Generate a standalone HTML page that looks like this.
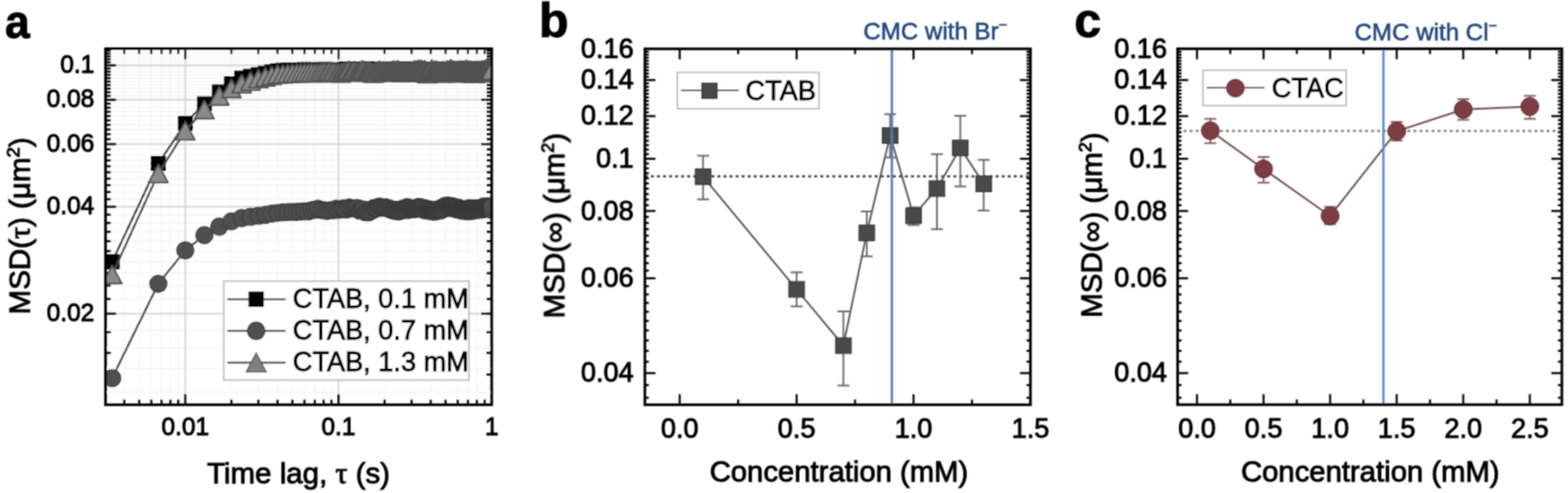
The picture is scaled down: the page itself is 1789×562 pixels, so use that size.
<!DOCTYPE html>
<html><head><meta charset="utf-8"><title>MSD figure</title>
<style>html,body{margin:0;padding:0;background:#fff;}body{width:1789px;height:562px;overflow:hidden;}svg{display:block;}</style>
</head><body>
<svg width="1789" height="562" viewBox="0 0 1789 562">
<defs><filter id="soft" x="0" y="0" width="1789" height="562" filterUnits="userSpaceOnUse"><feConvolveMatrix order="3" kernelMatrix="1 2 1 2 4 2 1 2 1" divisor="16" edgeMode="duplicate" preserveAlpha="false"/></filter></defs>
<rect width="1789" height="562" fill="#fff"/>
<g filter="url(#soft)">
<g>
<line x1="141.84" y1="55.5" x2="141.84" y2="461.4" stroke="#f5f5f5" stroke-width="1.2" />
<line x1="158.78" y1="55.5" x2="158.78" y2="461.4" stroke="#f5f5f5" stroke-width="1.2" />
<line x1="172.62" y1="55.5" x2="172.62" y2="461.4" stroke="#f5f5f5" stroke-width="1.2" />
<line x1="184.32" y1="55.5" x2="184.32" y2="461.4" stroke="#f5f5f5" stroke-width="1.2" />
<line x1="194.46" y1="55.5" x2="194.46" y2="461.4" stroke="#f5f5f5" stroke-width="1.2" />
<line x1="203.4" y1="55.5" x2="203.4" y2="461.4" stroke="#f5f5f5" stroke-width="1.2" />
<line x1="264.02" y1="55.5" x2="264.02" y2="461.4" stroke="#f5f5f5" stroke-width="1.2" />
<line x1="294.8" y1="55.5" x2="294.8" y2="461.4" stroke="#f5f5f5" stroke-width="1.2" />
<line x1="316.64" y1="55.5" x2="316.64" y2="461.4" stroke="#f5f5f5" stroke-width="1.2" />
<line x1="333.58" y1="55.5" x2="333.58" y2="461.4" stroke="#f5f5f5" stroke-width="1.2" />
<line x1="347.42" y1="55.5" x2="347.42" y2="461.4" stroke="#f5f5f5" stroke-width="1.2" />
<line x1="359.12" y1="55.5" x2="359.12" y2="461.4" stroke="#f5f5f5" stroke-width="1.2" />
<line x1="369.26" y1="55.5" x2="369.26" y2="461.4" stroke="#f5f5f5" stroke-width="1.2" />
<line x1="378.2" y1="55.5" x2="378.2" y2="461.4" stroke="#f5f5f5" stroke-width="1.2" />
<line x1="438.82" y1="55.5" x2="438.82" y2="461.4" stroke="#f5f5f5" stroke-width="1.2" />
<line x1="469.6" y1="55.5" x2="469.6" y2="461.4" stroke="#f5f5f5" stroke-width="1.2" />
<line x1="491.44" y1="55.5" x2="491.44" y2="461.4" stroke="#f5f5f5" stroke-width="1.2" />
<line x1="508.38" y1="55.5" x2="508.38" y2="461.4" stroke="#f5f5f5" stroke-width="1.2" />
<line x1="522.22" y1="55.5" x2="522.22" y2="461.4" stroke="#f5f5f5" stroke-width="1.2" />
<line x1="533.92" y1="55.5" x2="533.92" y2="461.4" stroke="#f5f5f5" stroke-width="1.2" />
<line x1="544.06" y1="55.5" x2="544.06" y2="461.4" stroke="#f5f5f5" stroke-width="1.2" />
<line x1="553" y1="55.5" x2="553" y2="461.4" stroke="#f5f5f5" stroke-width="1.2" />
<line x1="120.4" y1="447.43" x2="561" y2="447.43" stroke="#f3f3f3" stroke-width="1.2" />
<line x1="120.4" y1="420.32" x2="561" y2="420.32" stroke="#f3f3f3" stroke-width="1.2" />
<line x1="120.4" y1="396.83" x2="561" y2="396.83" stroke="#f3f3f3" stroke-width="1.2" />
<line x1="120.4" y1="376.11" x2="561" y2="376.11" stroke="#f3f3f3" stroke-width="1.2" />
<line x1="120.4" y1="340.82" x2="561" y2="340.82" stroke="#f3f3f3" stroke-width="1.2" />
<line x1="120.4" y1="325.51" x2="561" y2="325.51" stroke="#f3f3f3" stroke-width="1.2" />
<line x1="120.4" y1="311.44" x2="561" y2="311.44" stroke="#f3f3f3" stroke-width="1.2" />
<line x1="120.4" y1="298.4" x2="561" y2="298.4" stroke="#f3f3f3" stroke-width="1.2" />
<line x1="120.4" y1="286.27" x2="561" y2="286.27" stroke="#f3f3f3" stroke-width="1.2" />
<line x1="120.4" y1="274.91" x2="561" y2="274.91" stroke="#f3f3f3" stroke-width="1.2" />
<line x1="120.4" y1="264.25" x2="561" y2="264.25" stroke="#f3f3f3" stroke-width="1.2" />
<line x1="120.4" y1="254.2" x2="561" y2="254.2" stroke="#f3f3f3" stroke-width="1.2" />
<line x1="120.4" y1="244.69" x2="561" y2="244.69" stroke="#f3f3f3" stroke-width="1.2" />
<line x1="120.4" y1="227.08" x2="561" y2="227.08" stroke="#f3f3f3" stroke-width="1.2" />
<line x1="120.4" y1="218.9" x2="561" y2="218.9" stroke="#f3f3f3" stroke-width="1.2" />
<line x1="120.4" y1="211.08" x2="561" y2="211.08" stroke="#f3f3f3" stroke-width="1.2" />
<line x1="120.4" y1="203.6" x2="561" y2="203.6" stroke="#f3f3f3" stroke-width="1.2" />
<line x1="120.4" y1="196.42" x2="561" y2="196.42" stroke="#f3f3f3" stroke-width="1.2" />
<line x1="120.4" y1="189.52" x2="561" y2="189.52" stroke="#f3f3f3" stroke-width="1.2" />
<line x1="120.4" y1="182.88" x2="561" y2="182.88" stroke="#f3f3f3" stroke-width="1.2" />
<line x1="120.4" y1="176.48" x2="561" y2="176.48" stroke="#f3f3f3" stroke-width="1.2" />
<line x1="120.4" y1="170.31" x2="561" y2="170.31" stroke="#f3f3f3" stroke-width="1.2" />
<line x1="120.4" y1="158.58" x2="561" y2="158.58" stroke="#f3f3f3" stroke-width="1.2" />
<line x1="120.4" y1="153" x2="561" y2="153" stroke="#f3f3f3" stroke-width="1.2" />
<line x1="120.4" y1="147.58" x2="561" y2="147.58" stroke="#f3f3f3" stroke-width="1.2" />
<line x1="120.4" y1="142.33" x2="561" y2="142.33" stroke="#f3f3f3" stroke-width="1.2" />
<line x1="120.4" y1="137.24" x2="561" y2="137.24" stroke="#f3f3f3" stroke-width="1.2" />
<line x1="120.4" y1="132.28" x2="561" y2="132.28" stroke="#f3f3f3" stroke-width="1.2" />
<line x1="120.4" y1="127.46" x2="561" y2="127.46" stroke="#f3f3f3" stroke-width="1.2" />
<line x1="120.4" y1="122.77" x2="561" y2="122.77" stroke="#f3f3f3" stroke-width="1.2" />
<line x1="120.4" y1="118.2" x2="561" y2="118.2" stroke="#f3f3f3" stroke-width="1.2" />
<line x1="120.4" y1="109.41" x2="561" y2="109.41" stroke="#f3f3f3" stroke-width="1.2" />
<line x1="120.4" y1="105.17" x2="561" y2="105.17" stroke="#f3f3f3" stroke-width="1.2" />
<line x1="120.4" y1="101.03" x2="561" y2="101.03" stroke="#f3f3f3" stroke-width="1.2" />
<line x1="120.4" y1="96.98" x2="561" y2="96.98" stroke="#f3f3f3" stroke-width="1.2" />
<line x1="120.4" y1="93.03" x2="561" y2="93.03" stroke="#f3f3f3" stroke-width="1.2" />
<line x1="120.4" y1="89.17" x2="561" y2="89.17" stroke="#f3f3f3" stroke-width="1.2" />
<line x1="120.4" y1="85.38" x2="561" y2="85.38" stroke="#f3f3f3" stroke-width="1.2" />
<line x1="120.4" y1="81.68" x2="561" y2="81.68" stroke="#f3f3f3" stroke-width="1.2" />
<line x1="120.4" y1="78.05" x2="561" y2="78.05" stroke="#f3f3f3" stroke-width="1.2" />
<line x1="120.4" y1="71.02" x2="561" y2="71.02" stroke="#f3f3f3" stroke-width="1.2" />
<line x1="120.4" y1="67.6" x2="561" y2="67.6" stroke="#f3f3f3" stroke-width="1.2" />
<line x1="120.4" y1="64.25" x2="561" y2="64.25" stroke="#f3f3f3" stroke-width="1.2" />
<line x1="120.4" y1="60.96" x2="561" y2="60.96" stroke="#f3f3f3" stroke-width="1.2" />
<line x1="120.4" y1="57.74" x2="561" y2="57.74" stroke="#f3f3f3" stroke-width="1.2" />
<line x1="211.4" y1="55.5" x2="211.4" y2="461.4" stroke="#d4d4d4" stroke-width="1.8" />
<line x1="386.2" y1="55.5" x2="386.2" y2="461.4" stroke="#d4d4d4" stroke-width="1.8" />
<line x1="120.4" y1="357.58" x2="561" y2="357.58" stroke="#d4d4d4" stroke-width="1.8" />
<line x1="120.4" y1="235.67" x2="561" y2="235.67" stroke="#d4d4d4" stroke-width="1.8" />
<line x1="120.4" y1="164.35" x2="561" y2="164.35" stroke="#d4d4d4" stroke-width="1.8" />
<line x1="120.4" y1="113.75" x2="561" y2="113.75" stroke="#d4d4d4" stroke-width="1.8" />
<line x1="120.4" y1="74.5" x2="561" y2="74.5" stroke="#d4d4d4" stroke-width="1.8" />
</g>
<line x1="211.4" y1="461.4" x2="211.4" y2="449.4" stroke="#000" stroke-width="2.3" />
<line x1="211.4" y1="55.5" x2="211.4" y2="67.5" stroke="#000" stroke-width="2.3" />
<line x1="386.2" y1="461.4" x2="386.2" y2="449.4" stroke="#000" stroke-width="2.3" />
<line x1="386.2" y1="55.5" x2="386.2" y2="67.5" stroke="#000" stroke-width="2.3" />
<line x1="141.84" y1="461.4" x2="141.84" y2="455.4" stroke="#000" stroke-width="2.3" />
<line x1="141.84" y1="55.5" x2="141.84" y2="61.5" stroke="#000" stroke-width="2.3" />
<line x1="158.78" y1="461.4" x2="158.78" y2="455.4" stroke="#000" stroke-width="2.3" />
<line x1="158.78" y1="55.5" x2="158.78" y2="61.5" stroke="#000" stroke-width="2.3" />
<line x1="172.62" y1="461.4" x2="172.62" y2="455.4" stroke="#000" stroke-width="2.3" />
<line x1="172.62" y1="55.5" x2="172.62" y2="61.5" stroke="#000" stroke-width="2.3" />
<line x1="184.32" y1="461.4" x2="184.32" y2="455.4" stroke="#000" stroke-width="2.3" />
<line x1="184.32" y1="55.5" x2="184.32" y2="61.5" stroke="#000" stroke-width="2.3" />
<line x1="194.46" y1="461.4" x2="194.46" y2="455.4" stroke="#000" stroke-width="2.3" />
<line x1="194.46" y1="55.5" x2="194.46" y2="61.5" stroke="#000" stroke-width="2.3" />
<line x1="203.4" y1="461.4" x2="203.4" y2="455.4" stroke="#000" stroke-width="2.3" />
<line x1="203.4" y1="55.5" x2="203.4" y2="61.5" stroke="#000" stroke-width="2.3" />
<line x1="264.02" y1="461.4" x2="264.02" y2="455.4" stroke="#000" stroke-width="2.3" />
<line x1="264.02" y1="55.5" x2="264.02" y2="61.5" stroke="#000" stroke-width="2.3" />
<line x1="294.8" y1="461.4" x2="294.8" y2="455.4" stroke="#000" stroke-width="2.3" />
<line x1="294.8" y1="55.5" x2="294.8" y2="61.5" stroke="#000" stroke-width="2.3" />
<line x1="316.64" y1="461.4" x2="316.64" y2="455.4" stroke="#000" stroke-width="2.3" />
<line x1="316.64" y1="55.5" x2="316.64" y2="61.5" stroke="#000" stroke-width="2.3" />
<line x1="333.58" y1="461.4" x2="333.58" y2="455.4" stroke="#000" stroke-width="2.3" />
<line x1="333.58" y1="55.5" x2="333.58" y2="61.5" stroke="#000" stroke-width="2.3" />
<line x1="347.42" y1="461.4" x2="347.42" y2="455.4" stroke="#000" stroke-width="2.3" />
<line x1="347.42" y1="55.5" x2="347.42" y2="61.5" stroke="#000" stroke-width="2.3" />
<line x1="359.12" y1="461.4" x2="359.12" y2="455.4" stroke="#000" stroke-width="2.3" />
<line x1="359.12" y1="55.5" x2="359.12" y2="61.5" stroke="#000" stroke-width="2.3" />
<line x1="369.26" y1="461.4" x2="369.26" y2="455.4" stroke="#000" stroke-width="2.3" />
<line x1="369.26" y1="55.5" x2="369.26" y2="61.5" stroke="#000" stroke-width="2.3" />
<line x1="378.2" y1="461.4" x2="378.2" y2="455.4" stroke="#000" stroke-width="2.3" />
<line x1="378.2" y1="55.5" x2="378.2" y2="61.5" stroke="#000" stroke-width="2.3" />
<line x1="438.82" y1="461.4" x2="438.82" y2="455.4" stroke="#000" stroke-width="2.3" />
<line x1="438.82" y1="55.5" x2="438.82" y2="61.5" stroke="#000" stroke-width="2.3" />
<line x1="469.6" y1="461.4" x2="469.6" y2="455.4" stroke="#000" stroke-width="2.3" />
<line x1="469.6" y1="55.5" x2="469.6" y2="61.5" stroke="#000" stroke-width="2.3" />
<line x1="491.44" y1="461.4" x2="491.44" y2="455.4" stroke="#000" stroke-width="2.3" />
<line x1="491.44" y1="55.5" x2="491.44" y2="61.5" stroke="#000" stroke-width="2.3" />
<line x1="508.38" y1="461.4" x2="508.38" y2="455.4" stroke="#000" stroke-width="2.3" />
<line x1="508.38" y1="55.5" x2="508.38" y2="61.5" stroke="#000" stroke-width="2.3" />
<line x1="522.22" y1="461.4" x2="522.22" y2="455.4" stroke="#000" stroke-width="2.3" />
<line x1="522.22" y1="55.5" x2="522.22" y2="61.5" stroke="#000" stroke-width="2.3" />
<line x1="533.92" y1="461.4" x2="533.92" y2="455.4" stroke="#000" stroke-width="2.3" />
<line x1="533.92" y1="55.5" x2="533.92" y2="61.5" stroke="#000" stroke-width="2.3" />
<line x1="544.06" y1="461.4" x2="544.06" y2="455.4" stroke="#000" stroke-width="2.3" />
<line x1="544.06" y1="55.5" x2="544.06" y2="61.5" stroke="#000" stroke-width="2.3" />
<line x1="553" y1="461.4" x2="553" y2="455.4" stroke="#000" stroke-width="2.3" />
<line x1="553" y1="55.5" x2="553" y2="61.5" stroke="#000" stroke-width="2.3" />
<line x1="120.4" y1="357.58" x2="132.4" y2="357.58" stroke="#000" stroke-width="2.3" />
<line x1="561" y1="357.58" x2="549" y2="357.58" stroke="#000" stroke-width="2.3" />
<line x1="120.4" y1="235.67" x2="132.4" y2="235.67" stroke="#000" stroke-width="2.3" />
<line x1="561" y1="235.67" x2="549" y2="235.67" stroke="#000" stroke-width="2.3" />
<line x1="120.4" y1="164.35" x2="132.4" y2="164.35" stroke="#000" stroke-width="2.3" />
<line x1="561" y1="164.35" x2="549" y2="164.35" stroke="#000" stroke-width="2.3" />
<line x1="120.4" y1="113.75" x2="132.4" y2="113.75" stroke="#000" stroke-width="2.3" />
<line x1="561" y1="113.75" x2="549" y2="113.75" stroke="#000" stroke-width="2.3" />
<line x1="120.4" y1="74.5" x2="132.4" y2="74.5" stroke="#000" stroke-width="2.3" />
<line x1="561" y1="74.5" x2="549" y2="74.5" stroke="#000" stroke-width="2.3" />
<line x1="120.4" y1="340.82" x2="126.4" y2="340.82" stroke="#000" stroke-width="2.3" />
<line x1="561" y1="340.82" x2="555" y2="340.82" stroke="#000" stroke-width="2.3" />
<line x1="120.4" y1="325.51" x2="126.4" y2="325.51" stroke="#000" stroke-width="2.3" />
<line x1="561" y1="325.51" x2="555" y2="325.51" stroke="#000" stroke-width="2.3" />
<line x1="120.4" y1="311.44" x2="126.4" y2="311.44" stroke="#000" stroke-width="2.3" />
<line x1="561" y1="311.44" x2="555" y2="311.44" stroke="#000" stroke-width="2.3" />
<line x1="120.4" y1="298.4" x2="126.4" y2="298.4" stroke="#000" stroke-width="2.3" />
<line x1="561" y1="298.4" x2="555" y2="298.4" stroke="#000" stroke-width="2.3" />
<line x1="120.4" y1="286.27" x2="126.4" y2="286.27" stroke="#000" stroke-width="2.3" />
<line x1="561" y1="286.27" x2="555" y2="286.27" stroke="#000" stroke-width="2.3" />
<line x1="120.4" y1="274.91" x2="126.4" y2="274.91" stroke="#000" stroke-width="2.3" />
<line x1="561" y1="274.91" x2="555" y2="274.91" stroke="#000" stroke-width="2.3" />
<line x1="120.4" y1="264.25" x2="126.4" y2="264.25" stroke="#000" stroke-width="2.3" />
<line x1="561" y1="264.25" x2="555" y2="264.25" stroke="#000" stroke-width="2.3" />
<line x1="120.4" y1="254.2" x2="126.4" y2="254.2" stroke="#000" stroke-width="2.3" />
<line x1="561" y1="254.2" x2="555" y2="254.2" stroke="#000" stroke-width="2.3" />
<line x1="120.4" y1="244.69" x2="126.4" y2="244.69" stroke="#000" stroke-width="2.3" />
<line x1="561" y1="244.69" x2="555" y2="244.69" stroke="#000" stroke-width="2.3" />
<line x1="120.4" y1="227.08" x2="126.4" y2="227.08" stroke="#000" stroke-width="2.3" />
<line x1="561" y1="227.08" x2="555" y2="227.08" stroke="#000" stroke-width="2.3" />
<line x1="120.4" y1="218.9" x2="126.4" y2="218.9" stroke="#000" stroke-width="2.3" />
<line x1="561" y1="218.9" x2="555" y2="218.9" stroke="#000" stroke-width="2.3" />
<line x1="120.4" y1="211.08" x2="126.4" y2="211.08" stroke="#000" stroke-width="2.3" />
<line x1="561" y1="211.08" x2="555" y2="211.08" stroke="#000" stroke-width="2.3" />
<line x1="120.4" y1="203.6" x2="126.4" y2="203.6" stroke="#000" stroke-width="2.3" />
<line x1="561" y1="203.6" x2="555" y2="203.6" stroke="#000" stroke-width="2.3" />
<line x1="120.4" y1="196.42" x2="126.4" y2="196.42" stroke="#000" stroke-width="2.3" />
<line x1="561" y1="196.42" x2="555" y2="196.42" stroke="#000" stroke-width="2.3" />
<line x1="120.4" y1="189.52" x2="126.4" y2="189.52" stroke="#000" stroke-width="2.3" />
<line x1="561" y1="189.52" x2="555" y2="189.52" stroke="#000" stroke-width="2.3" />
<line x1="120.4" y1="182.88" x2="126.4" y2="182.88" stroke="#000" stroke-width="2.3" />
<line x1="561" y1="182.88" x2="555" y2="182.88" stroke="#000" stroke-width="2.3" />
<line x1="120.4" y1="176.48" x2="126.4" y2="176.48" stroke="#000" stroke-width="2.3" />
<line x1="561" y1="176.48" x2="555" y2="176.48" stroke="#000" stroke-width="2.3" />
<line x1="120.4" y1="170.31" x2="126.4" y2="170.31" stroke="#000" stroke-width="2.3" />
<line x1="561" y1="170.31" x2="555" y2="170.31" stroke="#000" stroke-width="2.3" />
<line x1="120.4" y1="158.58" x2="126.4" y2="158.58" stroke="#000" stroke-width="2.3" />
<line x1="561" y1="158.58" x2="555" y2="158.58" stroke="#000" stroke-width="2.3" />
<line x1="120.4" y1="153" x2="126.4" y2="153" stroke="#000" stroke-width="2.3" />
<line x1="561" y1="153" x2="555" y2="153" stroke="#000" stroke-width="2.3" />
<line x1="120.4" y1="147.58" x2="126.4" y2="147.58" stroke="#000" stroke-width="2.3" />
<line x1="561" y1="147.58" x2="555" y2="147.58" stroke="#000" stroke-width="2.3" />
<line x1="120.4" y1="142.33" x2="126.4" y2="142.33" stroke="#000" stroke-width="2.3" />
<line x1="561" y1="142.33" x2="555" y2="142.33" stroke="#000" stroke-width="2.3" />
<line x1="120.4" y1="137.24" x2="126.4" y2="137.24" stroke="#000" stroke-width="2.3" />
<line x1="561" y1="137.24" x2="555" y2="137.24" stroke="#000" stroke-width="2.3" />
<line x1="120.4" y1="132.28" x2="126.4" y2="132.28" stroke="#000" stroke-width="2.3" />
<line x1="561" y1="132.28" x2="555" y2="132.28" stroke="#000" stroke-width="2.3" />
<line x1="120.4" y1="127.46" x2="126.4" y2="127.46" stroke="#000" stroke-width="2.3" />
<line x1="561" y1="127.46" x2="555" y2="127.46" stroke="#000" stroke-width="2.3" />
<line x1="120.4" y1="122.77" x2="126.4" y2="122.77" stroke="#000" stroke-width="2.3" />
<line x1="561" y1="122.77" x2="555" y2="122.77" stroke="#000" stroke-width="2.3" />
<line x1="120.4" y1="118.2" x2="126.4" y2="118.2" stroke="#000" stroke-width="2.3" />
<line x1="561" y1="118.2" x2="555" y2="118.2" stroke="#000" stroke-width="2.3" />
<line x1="120.4" y1="109.41" x2="126.4" y2="109.41" stroke="#000" stroke-width="2.3" />
<line x1="561" y1="109.41" x2="555" y2="109.41" stroke="#000" stroke-width="2.3" />
<line x1="120.4" y1="105.17" x2="126.4" y2="105.17" stroke="#000" stroke-width="2.3" />
<line x1="561" y1="105.17" x2="555" y2="105.17" stroke="#000" stroke-width="2.3" />
<line x1="120.4" y1="101.03" x2="126.4" y2="101.03" stroke="#000" stroke-width="2.3" />
<line x1="561" y1="101.03" x2="555" y2="101.03" stroke="#000" stroke-width="2.3" />
<line x1="120.4" y1="96.98" x2="126.4" y2="96.98" stroke="#000" stroke-width="2.3" />
<line x1="561" y1="96.98" x2="555" y2="96.98" stroke="#000" stroke-width="2.3" />
<line x1="120.4" y1="93.03" x2="126.4" y2="93.03" stroke="#000" stroke-width="2.3" />
<line x1="561" y1="93.03" x2="555" y2="93.03" stroke="#000" stroke-width="2.3" />
<line x1="120.4" y1="89.17" x2="126.4" y2="89.17" stroke="#000" stroke-width="2.3" />
<line x1="561" y1="89.17" x2="555" y2="89.17" stroke="#000" stroke-width="2.3" />
<line x1="120.4" y1="85.38" x2="126.4" y2="85.38" stroke="#000" stroke-width="2.3" />
<line x1="561" y1="85.38" x2="555" y2="85.38" stroke="#000" stroke-width="2.3" />
<line x1="120.4" y1="81.68" x2="126.4" y2="81.68" stroke="#000" stroke-width="2.3" />
<line x1="561" y1="81.68" x2="555" y2="81.68" stroke="#000" stroke-width="2.3" />
<line x1="120.4" y1="78.05" x2="126.4" y2="78.05" stroke="#000" stroke-width="2.3" />
<line x1="561" y1="78.05" x2="555" y2="78.05" stroke="#000" stroke-width="2.3" />
<line x1="120.4" y1="71.02" x2="126.4" y2="71.02" stroke="#000" stroke-width="2.3" />
<line x1="561" y1="71.02" x2="555" y2="71.02" stroke="#000" stroke-width="2.3" />
<line x1="120.4" y1="67.6" x2="126.4" y2="67.6" stroke="#000" stroke-width="2.3" />
<line x1="561" y1="67.6" x2="555" y2="67.6" stroke="#000" stroke-width="2.3" />
<line x1="120.4" y1="64.25" x2="126.4" y2="64.25" stroke="#000" stroke-width="2.3" />
<line x1="561" y1="64.25" x2="555" y2="64.25" stroke="#000" stroke-width="2.3" />
<line x1="120.4" y1="60.96" x2="126.4" y2="60.96" stroke="#000" stroke-width="2.3" />
<line x1="561" y1="60.96" x2="555" y2="60.96" stroke="#000" stroke-width="2.3" />
<line x1="120.4" y1="57.74" x2="126.4" y2="57.74" stroke="#000" stroke-width="2.3" />
<line x1="561" y1="57.74" x2="555" y2="57.74" stroke="#000" stroke-width="2.3" />
<line x1="120.4" y1="378.5" x2="126.4" y2="378.5" stroke="#000" stroke-width="2.3" />
<line x1="561" y1="378.5" x2="555" y2="378.5" stroke="#000" stroke-width="2.3" />
<line x1="120.4" y1="402.3" x2="126.4" y2="402.3" stroke="#000" stroke-width="2.3" />
<line x1="561" y1="402.3" x2="555" y2="402.3" stroke="#000" stroke-width="2.3" />
<line x1="120.4" y1="427" x2="126.4" y2="427" stroke="#000" stroke-width="2.3" />
<line x1="561" y1="427" x2="555" y2="427" stroke="#000" stroke-width="2.3" />
<defs><clipPath id="ca"><rect x="120.4" y="55.5" width="440.6" height="405.9"/></clipPath></defs>
<g clip-path="url(#ca)">
<polyline fill="none" stroke="#3a3a3a" stroke-width="2.2" stroke-linejoin="round" points="128,298.4 180.62,186.3 211.4,140.6 233.24,118.2 250.18,104.9 264.02,95.5 275.72,89 285.86,86.89 294.8,85 302.8,83.36 310.03,81.93 316.64,80.57 322.72,80.02 328.34,79.8 333.58,79.82 338.48,79.74 343.08,79.54 347.42,79.26 351.53,79.4 355.42,79.42 359.12,79.96 362.65,79.96 366.03,79.28 369.26,79.62 372.36,79.15 375.34,79.67 378.2,79.45 380.96,79.72 383.63,79.97 386.2,79.9 388.69,79.95 391.1,79.52 393.44,79.02 395.7,78.7 397.9,79.01 400.04,80.21 402.12,79.43 404.15,80.49 406.12,81 408.04,80 409.91,80.92 411.74,81.42 413.53,78.57 415.27,79.19 416.98,78.95 418.65,78.33 420.28,79.42 421.88,79.44 423.45,78.99 424.98,81.1 426.48,81.36 427.96,81.72 429.4,82.04 430.82,81.09 432.21,80.64 433.58,79.36 434.93,80.46 436.25,79.45 437.54,79.51 438.82,78.97 440.07,79.25 441.31,79.63 442.52,80.97 443.72,78.68 444.9,79.08 446.06,80.26 447.2,81.09 448.32,80.49 449.43,78.81 450.52,78.47 451.6,80.62 452.66,80.02 453.71,79.91 454.74,81.52 455.76,81.71 456.77,81.08 457.76,81.1 458.74,81.12 459.7,81.77 460.66,80.87 461.6,80.57 462.53,80.38 463.45,78.72 464.36,80.59 465.26,80.31 466.15,80.04 467.03,78.39 467.89,79.5 468.75,80.74 469.6,79.13 470.44,80.51 471.27,81.57 472.09,80.12 472.9,82.29 473.71,81.61 474.5,81.11 475.29,81.37 476.07,81.47 476.84,80.93 477.6,81.45 478.35,79.97 479.1,79.94 479.84,80.78 480.58,79.92 481.3,79.19 482.02,80.43 482.74,80.81 483.44,79.54 484.14,78.99 484.83,80.01 485.52,80.17 486.2,80.25 486.88,81.63 487.55,80.1 488.21,81.85 488.87,80.2 489.52,80.62 490.16,81.65 490.8,82 491.44,81.77 492.07,81.34 492.69,81.09 493.31,80.97 493.93,81.12 494.54,80.45 495.14,80.62 495.74,80.69 496.34,80.18 496.93,80.61 497.52,80.41 498.1,81.37 498.68,80.18 499.25,79.66 499.82,79.74 500.38,80.05 500.94,80.78 501.5,79.98 502.05,80.57 502.6,81.68 503.14,78.69 503.68,79.77 504.22,80.79 504.75,80.95 505.28,80.87 505.81,80.42 506.33,81.18 506.85,80.9 507.36,80.3 507.87,82.32 508.38,80.81 508.88,80.12 509.39,80.38 509.88,80.23 510.38,80.3 510.87,78.39 511.36,79.93 511.84,80.96 512.32,79.44 512.8,80.23 513.28,80.97 513.75,80.96 514.22,81.47 514.69,79.31 515.15,80.34 515.62,80.44 516.07,81.21 516.53,81.64 516.98,79.09 517.43,81.82 517.88,80.12 518.33,81.68 518.77,80.21 519.21,81.41 519.65,82.13 520.08,81.18 520.51,81.39 520.94,81.76 521.37,81.22 521.8,80.97 522.22,82 522.64,81.53 523.06,80.45 523.48,82.43 523.89,79.55 524.3,80.84 524.71,79.85 525.12,79.98 525.52,80.23 525.92,79.76 526.33,79.93 526.72,78.31 527.12,78.24 527.51,79.66 527.91,78.51 528.3,78.45 528.69,78.14 529.07,80.09 529.46,79.77 529.84,80.35 530.22,78.76 530.6,79.53 530.97,78.86 531.35,80.35 531.72,81.08 532.09,79.51 532.46,81.4 532.83,81.18 533.2,80.54 533.56,79.46 533.92,82 534.28,81.11 534.64,80.91 535,81.75 535.36,81.89 535.71,82.76 536.06,81.09 536.41,82.67 536.76,82.97 537.11,82.98 537.45,81.85 537.8,81.45 538.14,82.66 538.48,81.98 538.82,81.93 539.16,82.76 539.5,81.49 539.83,79.96 540.17,81.18 540.5,80.03 540.83,81.76 541.16,81.27 541.49,80.48 541.81,80.76 542.14,81.21 542.46,80.54 542.78,81.27 543.11,80.17 543.42,80.82 543.74,81.02 544.06,81 544.38,79.31 544.69,80.31 545,78.31 545.31,78.8 545.63,78.14 545.93,80.23 546.24,78.6 546.55,79.44 546.85,79.32 547.16,79.44 547.46,79.07 547.76,79.68 548.06,80.81 548.36,79.64 548.66,80.03 548.96,80.42 549.26,79.64 549.55,78.97 549.84,79.53 550.14,80.74 550.43,78.9 550.72,79.7 551.01,80.9 551.3,80.81 551.58,80.32 551.87,80.94 552.15,80.54 552.44,79.65 552.72,79.42 553,80.11 553.28,81.23 553.56,80.22 553.84,80 554.12,80.11 554.39,79.59 554.67,80.59 554.94,79.84 555.22,80.92 555.49,79.01 555.76,80.89 556.03,80.2 556.3,79.28 556.57,81.13 556.84,80.42 557.11,79.04 557.37,79.97 557.64,80.78 557.9,80.24 558.16,81.1 558.43,81.08 558.69,81.02 558.95,80.78 559.21,81.49 559.47,81.03 559.72,80.89 559.98,79.14 560.24,81.24 560.49,81.56 560.75,80.46 561,80.37"/>
<g fill="#000" stroke="#111" stroke-width="1">
<rect x="120" y="290.4" width="16" height="16"/>
<rect x="172.62" y="178.3" width="16" height="16"/>
<rect x="203.4" y="132.6" width="16" height="16"/>
<rect x="225.24" y="110.2" width="16" height="16"/>
<rect x="242.18" y="96.9" width="16" height="16"/>
<rect x="256.02" y="87.5" width="16" height="16"/>
<rect x="267.72" y="81" width="16" height="16"/>
<rect x="277.86" y="78.89" width="16" height="16"/>
<rect x="286.8" y="77" width="16" height="16"/>
<rect x="294.8" y="75.36" width="16" height="16"/>
<rect x="302.03" y="73.93" width="16" height="16"/>
<rect x="308.64" y="72.57" width="16" height="16"/>
<rect x="314.72" y="72.02" width="16" height="16"/>
<rect x="320.34" y="71.8" width="16" height="16"/>
<rect x="325.58" y="71.82" width="16" height="16"/>
<rect x="330.48" y="71.74" width="16" height="16"/>
<rect x="335.08" y="71.54" width="16" height="16"/>
<rect x="339.42" y="71.26" width="16" height="16"/>
<rect x="343.53" y="71.4" width="16" height="16"/>
<rect x="347.42" y="71.42" width="16" height="16"/>
<rect x="351.12" y="71.96" width="16" height="16"/>
<rect x="354.65" y="71.96" width="16" height="16"/>
<rect x="358.03" y="71.28" width="16" height="16"/>
<rect x="361.26" y="71.62" width="16" height="16"/>
<rect x="364.36" y="71.15" width="16" height="16"/>
<rect x="367.34" y="71.67" width="16" height="16"/>
<rect x="370.2" y="71.45" width="16" height="16"/>
<rect x="372.96" y="71.72" width="16" height="16"/>
<rect x="375.63" y="71.97" width="16" height="16"/>
<rect x="378.2" y="71.9" width="16" height="16"/>
<rect x="380.69" y="71.95" width="16" height="16"/>
<rect x="383.1" y="71.52" width="16" height="16"/>
<rect x="385.44" y="71.02" width="16" height="16"/>
<rect x="387.7" y="70.7" width="16" height="16"/>
<rect x="389.9" y="71.01" width="16" height="16"/>
<rect x="392.04" y="72.21" width="16" height="16"/>
<rect x="394.12" y="71.43" width="16" height="16"/>
<rect x="396.15" y="72.49" width="16" height="16"/>
<rect x="398.12" y="73" width="16" height="16"/>
<rect x="400.04" y="72" width="16" height="16"/>
<rect x="401.91" y="72.92" width="16" height="16"/>
<rect x="403.74" y="73.42" width="16" height="16"/>
<rect x="405.53" y="70.57" width="16" height="16"/>
<rect x="407.27" y="71.19" width="16" height="16"/>
<rect x="408.98" y="70.95" width="16" height="16"/>
<rect x="410.65" y="70.33" width="16" height="16"/>
<rect x="412.28" y="71.42" width="16" height="16"/>
<rect x="413.88" y="71.44" width="16" height="16"/>
<rect x="415.45" y="70.99" width="16" height="16"/>
<rect x="416.98" y="73.1" width="16" height="16"/>
<rect x="418.48" y="73.36" width="16" height="16"/>
<rect x="419.96" y="73.72" width="16" height="16"/>
<rect x="421.4" y="74.04" width="16" height="16"/>
<rect x="422.82" y="73.09" width="16" height="16"/>
<rect x="424.21" y="72.64" width="16" height="16"/>
<rect x="425.58" y="71.36" width="16" height="16"/>
<rect x="426.93" y="72.46" width="16" height="16"/>
<rect x="428.25" y="71.45" width="16" height="16"/>
<rect x="429.54" y="71.51" width="16" height="16"/>
<rect x="430.82" y="70.97" width="16" height="16"/>
<rect x="432.07" y="71.25" width="16" height="16"/>
<rect x="433.31" y="71.63" width="16" height="16"/>
<rect x="434.52" y="72.97" width="16" height="16"/>
<rect x="435.72" y="70.68" width="16" height="16"/>
<rect x="436.9" y="71.08" width="16" height="16"/>
<rect x="438.06" y="72.26" width="16" height="16"/>
<rect x="439.2" y="73.09" width="16" height="16"/>
<rect x="440.32" y="72.49" width="16" height="16"/>
<rect x="441.43" y="70.81" width="16" height="16"/>
<rect x="442.52" y="70.47" width="16" height="16"/>
<rect x="443.6" y="72.62" width="16" height="16"/>
<rect x="444.66" y="72.02" width="16" height="16"/>
<rect x="445.71" y="71.91" width="16" height="16"/>
<rect x="446.74" y="73.52" width="16" height="16"/>
<rect x="447.76" y="73.71" width="16" height="16"/>
<rect x="448.77" y="73.08" width="16" height="16"/>
<rect x="449.76" y="73.1" width="16" height="16"/>
<rect x="450.74" y="73.12" width="16" height="16"/>
<rect x="451.7" y="73.77" width="16" height="16"/>
<rect x="452.66" y="72.87" width="16" height="16"/>
<rect x="453.6" y="72.57" width="16" height="16"/>
<rect x="454.53" y="72.38" width="16" height="16"/>
<rect x="455.45" y="70.72" width="16" height="16"/>
<rect x="456.36" y="72.59" width="16" height="16"/>
<rect x="457.26" y="72.31" width="16" height="16"/>
<rect x="458.15" y="72.04" width="16" height="16"/>
<rect x="459.03" y="70.39" width="16" height="16"/>
<rect x="459.89" y="71.5" width="16" height="16"/>
<rect x="460.75" y="72.74" width="16" height="16"/>
<rect x="461.6" y="71.13" width="16" height="16"/>
<rect x="462.44" y="72.51" width="16" height="16"/>
<rect x="463.27" y="73.57" width="16" height="16"/>
<rect x="464.09" y="72.12" width="16" height="16"/>
<rect x="464.9" y="74.29" width="16" height="16"/>
<rect x="465.71" y="73.61" width="16" height="16"/>
<rect x="466.5" y="73.11" width="16" height="16"/>
<rect x="467.29" y="73.37" width="16" height="16"/>
<rect x="468.07" y="73.47" width="16" height="16"/>
<rect x="468.84" y="72.93" width="16" height="16"/>
<rect x="469.6" y="73.45" width="16" height="16"/>
<rect x="470.35" y="71.97" width="16" height="16"/>
<rect x="471.1" y="71.94" width="16" height="16"/>
<rect x="471.84" y="72.78" width="16" height="16"/>
<rect x="472.58" y="71.92" width="16" height="16"/>
<rect x="473.3" y="71.19" width="16" height="16"/>
<rect x="474.02" y="72.43" width="16" height="16"/>
<rect x="474.74" y="72.81" width="16" height="16"/>
<rect x="475.44" y="71.54" width="16" height="16"/>
<rect x="476.14" y="70.99" width="16" height="16"/>
<rect x="476.83" y="72.01" width="16" height="16"/>
<rect x="477.52" y="72.17" width="16" height="16"/>
<rect x="478.2" y="72.25" width="16" height="16"/>
<rect x="478.88" y="73.63" width="16" height="16"/>
<rect x="479.55" y="72.1" width="16" height="16"/>
<rect x="480.21" y="73.85" width="16" height="16"/>
<rect x="480.87" y="72.2" width="16" height="16"/>
<rect x="481.52" y="72.62" width="16" height="16"/>
<rect x="482.16" y="73.65" width="16" height="16"/>
<rect x="482.8" y="74" width="16" height="16"/>
<rect x="483.44" y="73.77" width="16" height="16"/>
<rect x="484.07" y="73.34" width="16" height="16"/>
<rect x="484.69" y="73.09" width="16" height="16"/>
<rect x="485.31" y="72.97" width="16" height="16"/>
<rect x="485.93" y="73.12" width="16" height="16"/>
<rect x="486.54" y="72.45" width="16" height="16"/>
<rect x="487.14" y="72.62" width="16" height="16"/>
<rect x="487.74" y="72.69" width="16" height="16"/>
<rect x="488.34" y="72.18" width="16" height="16"/>
<rect x="488.93" y="72.61" width="16" height="16"/>
<rect x="489.52" y="72.41" width="16" height="16"/>
<rect x="490.1" y="73.37" width="16" height="16"/>
<rect x="490.68" y="72.18" width="16" height="16"/>
<rect x="491.25" y="71.66" width="16" height="16"/>
<rect x="491.82" y="71.74" width="16" height="16"/>
<rect x="492.38" y="72.05" width="16" height="16"/>
<rect x="492.94" y="72.78" width="16" height="16"/>
<rect x="493.5" y="71.98" width="16" height="16"/>
<rect x="494.05" y="72.57" width="16" height="16"/>
<rect x="494.6" y="73.68" width="16" height="16"/>
<rect x="495.14" y="70.69" width="16" height="16"/>
<rect x="495.68" y="71.77" width="16" height="16"/>
<rect x="496.22" y="72.79" width="16" height="16"/>
<rect x="496.75" y="72.95" width="16" height="16"/>
<rect x="497.28" y="72.87" width="16" height="16"/>
<rect x="497.81" y="72.42" width="16" height="16"/>
<rect x="498.33" y="73.18" width="16" height="16"/>
<rect x="498.85" y="72.9" width="16" height="16"/>
<rect x="499.36" y="72.3" width="16" height="16"/>
<rect x="499.87" y="74.32" width="16" height="16"/>
<rect x="500.38" y="72.81" width="16" height="16"/>
<rect x="500.88" y="72.12" width="16" height="16"/>
<rect x="501.39" y="72.38" width="16" height="16"/>
<rect x="501.88" y="72.23" width="16" height="16"/>
<rect x="502.38" y="72.3" width="16" height="16"/>
<rect x="502.87" y="70.39" width="16" height="16"/>
<rect x="503.36" y="71.93" width="16" height="16"/>
<rect x="503.84" y="72.96" width="16" height="16"/>
<rect x="504.32" y="71.44" width="16" height="16"/>
<rect x="504.8" y="72.23" width="16" height="16"/>
<rect x="505.28" y="72.97" width="16" height="16"/>
<rect x="505.75" y="72.96" width="16" height="16"/>
<rect x="506.22" y="73.47" width="16" height="16"/>
<rect x="506.69" y="71.31" width="16" height="16"/>
<rect x="507.15" y="72.34" width="16" height="16"/>
<rect x="507.62" y="72.44" width="16" height="16"/>
<rect x="508.07" y="73.21" width="16" height="16"/>
<rect x="508.53" y="73.64" width="16" height="16"/>
<rect x="508.98" y="71.09" width="16" height="16"/>
<rect x="509.43" y="73.82" width="16" height="16"/>
<rect x="509.88" y="72.12" width="16" height="16"/>
<rect x="510.33" y="73.68" width="16" height="16"/>
<rect x="510.77" y="72.21" width="16" height="16"/>
<rect x="511.21" y="73.41" width="16" height="16"/>
<rect x="511.65" y="74.13" width="16" height="16"/>
<rect x="512.08" y="73.18" width="16" height="16"/>
<rect x="512.51" y="73.39" width="16" height="16"/>
<rect x="512.94" y="73.76" width="16" height="16"/>
<rect x="513.37" y="73.22" width="16" height="16"/>
<rect x="513.8" y="72.97" width="16" height="16"/>
<rect x="514.22" y="74" width="16" height="16"/>
<rect x="514.64" y="73.53" width="16" height="16"/>
<rect x="515.06" y="72.45" width="16" height="16"/>
<rect x="515.48" y="74.43" width="16" height="16"/>
<rect x="515.89" y="71.55" width="16" height="16"/>
<rect x="516.3" y="72.84" width="16" height="16"/>
<rect x="516.71" y="71.85" width="16" height="16"/>
<rect x="517.12" y="71.98" width="16" height="16"/>
<rect x="517.52" y="72.23" width="16" height="16"/>
<rect x="517.92" y="71.76" width="16" height="16"/>
<rect x="518.33" y="71.93" width="16" height="16"/>
<rect x="518.72" y="70.31" width="16" height="16"/>
<rect x="519.12" y="70.24" width="16" height="16"/>
<rect x="519.51" y="71.66" width="16" height="16"/>
<rect x="519.91" y="70.51" width="16" height="16"/>
<rect x="520.3" y="70.45" width="16" height="16"/>
<rect x="520.69" y="70.14" width="16" height="16"/>
<rect x="521.07" y="72.09" width="16" height="16"/>
<rect x="521.46" y="71.77" width="16" height="16"/>
<rect x="521.84" y="72.35" width="16" height="16"/>
<rect x="522.22" y="70.76" width="16" height="16"/>
<rect x="522.6" y="71.53" width="16" height="16"/>
<rect x="522.97" y="70.86" width="16" height="16"/>
<rect x="523.35" y="72.35" width="16" height="16"/>
<rect x="523.72" y="73.08" width="16" height="16"/>
<rect x="524.09" y="71.51" width="16" height="16"/>
<rect x="524.46" y="73.4" width="16" height="16"/>
<rect x="524.83" y="73.18" width="16" height="16"/>
<rect x="525.2" y="72.54" width="16" height="16"/>
<rect x="525.56" y="71.46" width="16" height="16"/>
<rect x="525.92" y="74" width="16" height="16"/>
<rect x="526.28" y="73.11" width="16" height="16"/>
<rect x="526.64" y="72.91" width="16" height="16"/>
<rect x="527" y="73.75" width="16" height="16"/>
<rect x="527.36" y="73.89" width="16" height="16"/>
<rect x="527.71" y="74.76" width="16" height="16"/>
<rect x="528.06" y="73.09" width="16" height="16"/>
<rect x="528.41" y="74.67" width="16" height="16"/>
<rect x="528.76" y="74.97" width="16" height="16"/>
<rect x="529.11" y="74.98" width="16" height="16"/>
<rect x="529.45" y="73.85" width="16" height="16"/>
<rect x="529.8" y="73.45" width="16" height="16"/>
<rect x="530.14" y="74.66" width="16" height="16"/>
<rect x="530.48" y="73.98" width="16" height="16"/>
<rect x="530.82" y="73.93" width="16" height="16"/>
<rect x="531.16" y="74.76" width="16" height="16"/>
<rect x="531.5" y="73.49" width="16" height="16"/>
<rect x="531.83" y="71.96" width="16" height="16"/>
<rect x="532.17" y="73.18" width="16" height="16"/>
<rect x="532.5" y="72.03" width="16" height="16"/>
<rect x="532.83" y="73.76" width="16" height="16"/>
<rect x="533.16" y="73.27" width="16" height="16"/>
<rect x="533.49" y="72.48" width="16" height="16"/>
<rect x="533.81" y="72.76" width="16" height="16"/>
<rect x="534.14" y="73.21" width="16" height="16"/>
<rect x="534.46" y="72.54" width="16" height="16"/>
<rect x="534.78" y="73.27" width="16" height="16"/>
<rect x="535.11" y="72.17" width="16" height="16"/>
<rect x="535.42" y="72.82" width="16" height="16"/>
<rect x="535.74" y="73.02" width="16" height="16"/>
<rect x="536.06" y="73" width="16" height="16"/>
<rect x="536.38" y="71.31" width="16" height="16"/>
<rect x="536.69" y="72.31" width="16" height="16"/>
<rect x="537" y="70.31" width="16" height="16"/>
<rect x="537.31" y="70.8" width="16" height="16"/>
<rect x="537.63" y="70.14" width="16" height="16"/>
<rect x="537.93" y="72.23" width="16" height="16"/>
<rect x="538.24" y="70.6" width="16" height="16"/>
<rect x="538.55" y="71.44" width="16" height="16"/>
<rect x="538.85" y="71.32" width="16" height="16"/>
<rect x="539.16" y="71.44" width="16" height="16"/>
<rect x="539.46" y="71.07" width="16" height="16"/>
<rect x="539.76" y="71.68" width="16" height="16"/>
<rect x="540.06" y="72.81" width="16" height="16"/>
<rect x="540.36" y="71.64" width="16" height="16"/>
<rect x="540.66" y="72.03" width="16" height="16"/>
<rect x="540.96" y="72.42" width="16" height="16"/>
<rect x="541.26" y="71.64" width="16" height="16"/>
<rect x="541.55" y="70.97" width="16" height="16"/>
<rect x="541.84" y="71.53" width="16" height="16"/>
<rect x="542.14" y="72.74" width="16" height="16"/>
<rect x="542.43" y="70.9" width="16" height="16"/>
<rect x="542.72" y="71.7" width="16" height="16"/>
<rect x="543.01" y="72.9" width="16" height="16"/>
<rect x="543.3" y="72.81" width="16" height="16"/>
<rect x="543.58" y="72.32" width="16" height="16"/>
<rect x="543.87" y="72.94" width="16" height="16"/>
<rect x="544.15" y="72.54" width="16" height="16"/>
<rect x="544.44" y="71.65" width="16" height="16"/>
<rect x="544.72" y="71.42" width="16" height="16"/>
<rect x="545" y="72.11" width="16" height="16"/>
<rect x="545.28" y="73.23" width="16" height="16"/>
<rect x="545.56" y="72.22" width="16" height="16"/>
<rect x="545.84" y="72" width="16" height="16"/>
<rect x="546.12" y="72.11" width="16" height="16"/>
<rect x="546.39" y="71.59" width="16" height="16"/>
<rect x="546.67" y="72.59" width="16" height="16"/>
<rect x="546.94" y="71.84" width="16" height="16"/>
<rect x="547.22" y="72.92" width="16" height="16"/>
<rect x="547.49" y="71.01" width="16" height="16"/>
<rect x="547.76" y="72.89" width="16" height="16"/>
<rect x="548.03" y="72.2" width="16" height="16"/>
<rect x="548.3" y="71.28" width="16" height="16"/>
<rect x="548.57" y="73.13" width="16" height="16"/>
<rect x="548.84" y="72.42" width="16" height="16"/>
<rect x="549.11" y="71.04" width="16" height="16"/>
<rect x="549.37" y="71.97" width="16" height="16"/>
<rect x="549.64" y="72.78" width="16" height="16"/>
<rect x="549.9" y="72.24" width="16" height="16"/>
<rect x="550.16" y="73.1" width="16" height="16"/>
<rect x="550.43" y="73.08" width="16" height="16"/>
<rect x="550.69" y="73.02" width="16" height="16"/>
<rect x="550.95" y="72.78" width="16" height="16"/>
<rect x="551.21" y="73.49" width="16" height="16"/>
<rect x="551.47" y="73.03" width="16" height="16"/>
<rect x="551.72" y="72.89" width="16" height="16"/>
<rect x="551.98" y="71.14" width="16" height="16"/>
<rect x="552.24" y="73.24" width="16" height="16"/>
<rect x="552.49" y="73.56" width="16" height="16"/>
<rect x="552.75" y="72.46" width="16" height="16"/>
<rect x="553" y="72.37" width="16" height="16"/>
</g>
<polyline fill="none" stroke="#4a4a4a" stroke-width="2.2" stroke-linejoin="round" points="128,431 180.62,323.5 211.4,285.4 233.24,268 250.18,258.4 264.02,252.3 275.72,248.6 285.86,247.14 294.8,245.9 302.8,244.83 310.03,243.66 316.64,242.75 322.72,242.15 328.34,241.77 333.58,241.71 338.48,241.55 343.08,241.26 347.42,240.81 351.53,240.94 355.42,239.76 359.12,239.09 362.65,237.95 366.03,239.25 369.26,239.63 372.36,240.43 375.34,240.02 378.2,239.61 380.96,239.47 383.63,237.96 386.2,239.07 388.69,238.44 391.1,237.67 393.44,238.63 395.7,238.78 397.9,236.67 400.04,236.96 402.12,237.5 404.15,237.45 406.12,237.21 408.04,237.11 409.91,239.91 411.74,239.72 413.53,238.6 415.27,239.05 416.98,241.91 418.65,241.58 420.28,242.25 421.88,241.23 423.45,239.47 424.98,239.79 426.48,237.17 427.96,237.57 429.4,237.41 430.82,237.24 432.21,235.72 433.58,235.85 434.93,236.12 436.25,236.03 437.54,236.38 438.82,236.31 440.07,236.27 441.31,237.62 442.52,237.53 443.72,237.34 444.9,238 446.06,238.95 447.2,239.25 448.32,239.78 449.43,239.89 450.52,240.19 451.6,240.02 452.66,239.13 453.71,240.42 454.74,240.82 455.76,240.18 456.77,239.52 457.76,239.84 458.74,238.52 459.7,237.59 460.66,238.97 461.6,238.01 462.53,239.18 463.45,237.57 464.36,236.2 465.26,237.35 466.15,239.32 467.03,237.64 467.89,236.74 468.75,237.12 469.6,238.04 470.44,237.92 471.27,237.55 472.09,238.49 472.9,237.76 473.71,237.08 474.5,237.47 475.29,238.22 476.07,237.6 476.84,237.57 477.6,235.83 478.35,236.55 479.1,237.24 479.84,236.43 480.58,237.57 481.3,237.25 482.02,237.6 482.74,236.82 483.44,239.17 484.14,238.3 484.83,237.33 485.52,237.78 486.2,240.01 486.88,237.9 487.55,239.13 488.21,239.46 488.87,238.94 489.52,238.25 490.16,239.57 490.8,239.94 491.44,240.76 492.07,240.68 492.69,240.24 493.31,241.05 493.93,240.91 494.54,240.73 495.14,240.67 495.74,240.45 496.34,241.19 496.93,239.76 497.52,240.03 498.1,240.44 498.68,239.13 499.25,239.8 499.82,238.37 500.38,239.23 500.94,240.02 501.5,239.78 502.05,239.04 502.6,238.65 503.14,237.44 503.68,239.78 504.22,238.47 504.75,238.67 505.28,236.84 505.81,237.16 506.33,235.62 506.85,237.48 507.36,237.4 507.87,234.95 508.38,236.26 508.88,236.66 509.39,234.62 509.88,234.46 510.38,234.99 510.87,235.27 511.36,234.62 511.84,235.75 512.32,235.92 512.8,236.25 513.28,236.35 513.75,237.05 514.22,236.85 514.69,234.97 515.15,235.72 515.62,235.39 516.07,235.51 516.53,236.45 516.98,236.66 517.43,237.2 517.88,235.7 518.33,236.14 518.77,237.28 519.21,237.3 519.65,237.38 520.08,237.74 520.51,237.34 520.94,238.66 521.37,238.53 521.8,238.32 522.22,237.99 522.64,238.52 523.06,236.6 523.48,238.1 523.89,239.02 524.3,237.88 524.71,239.33 525.12,239.36 525.52,238.21 525.92,239.17 526.33,239.16 526.72,239.82 527.12,239.97 527.51,239.48 527.91,238.84 528.3,239.41 528.69,239.48 529.07,240.11 529.46,239.75 529.84,238.92 530.22,238.39 530.6,239.15 530.97,238.82 531.35,238.49 531.72,239.25 532.09,238.92 532.46,239.35 532.83,239.64 533.2,238.85 533.56,241 533.92,238.84 534.28,239.93 534.64,239.1 535,239.86 535.36,237.02 535.71,238.28 536.06,239.03 536.41,239.28 536.76,240.63 537.11,238.98 537.45,239.7 537.8,239.26 538.14,239.37 538.48,238.98 538.82,238.42 539.16,238.92 539.5,237.62 539.83,239.39 540.17,237.61 540.5,238.59 540.83,240.06 541.16,238.15 541.49,238.32 541.81,239.2 542.14,238.26 542.46,237.57 542.78,238.39 543.11,238.62 543.42,238.69 543.74,237.47 544.06,239.45 544.38,239.35 544.69,237.99 545,238.15 545.31,237.56 545.63,238.99 545.93,237.25 546.24,238.31 546.55,237.35 546.85,237.13 547.16,238.21 547.46,238.66 547.76,237.53 548.06,236.95 548.36,238.09 548.66,237.35 548.96,237.59 549.26,238.51 549.55,238.14 549.84,236.77 550.14,238.96 550.43,237.08 550.72,237.66 551.01,236.46 551.3,236.89 551.58,235.48 551.87,238.26 552.15,237.88 552.44,235.77 552.72,235.49 553,235.36 553.28,237.56 553.56,236.21 553.84,236.5 554.12,236.27 554.39,236.39 554.67,235.6 554.94,236.46 555.22,235.28 555.49,236.36 555.76,236.65 556.03,236.77 556.3,236.21 556.57,235.67 556.84,236.52 557.11,236.02 557.37,237.67 557.64,237.05 557.9,236.36 558.16,236.1 558.43,235.95 558.69,235.79 558.95,236.3 559.21,236.85 559.47,237.08 559.72,237.17 559.98,238.44 560.24,236.26 560.49,236.89 560.75,239.18 561,235.51"/>
<g fill="#505050" stroke="#3a3a3a" stroke-width="1.1">
<circle cx="128" cy="431" r="9.8"/>
<circle cx="180.62" cy="323.5" r="9.8"/>
<circle cx="211.4" cy="285.4" r="9.8"/>
<circle cx="233.24" cy="268" r="9.8"/>
<circle cx="250.18" cy="258.4" r="9.8"/>
<circle cx="264.02" cy="252.3" r="9.8"/>
<circle cx="275.72" cy="248.6" r="9.8"/>
<circle cx="285.86" cy="247.14" r="9.8"/>
<circle cx="294.8" cy="245.9" r="9.8"/>
<circle cx="302.8" cy="244.83" r="9.8"/>
<circle cx="310.03" cy="243.66" r="9.8"/>
<circle cx="316.64" cy="242.75" r="9.8"/>
<circle cx="322.72" cy="242.15" r="9.8"/>
<circle cx="328.34" cy="241.77" r="9.8"/>
<circle cx="333.58" cy="241.71" r="9.8"/>
<circle cx="338.48" cy="241.55" r="9.8"/>
<circle cx="343.08" cy="241.26" r="9.8"/>
<circle cx="347.42" cy="240.81" r="9.8"/>
<circle cx="351.53" cy="240.94" r="9.8"/>
<circle cx="355.42" cy="239.76" r="9.8"/>
<circle cx="359.12" cy="239.09" r="9.8"/>
<circle cx="362.65" cy="237.95" r="9.8"/>
<circle cx="366.03" cy="239.25" r="9.8"/>
<circle cx="369.26" cy="239.63" r="9.8"/>
<circle cx="372.36" cy="240.43" r="9.8"/>
<circle cx="375.34" cy="240.02" r="9.8"/>
<circle cx="378.2" cy="239.61" r="9.8"/>
<circle cx="380.96" cy="239.47" r="9.8"/>
<circle cx="383.63" cy="237.96" r="9.8"/>
<circle cx="386.2" cy="239.07" r="9.8"/>
<circle cx="388.69" cy="238.44" r="9.8"/>
<circle cx="391.1" cy="237.67" r="9.8"/>
<circle cx="393.44" cy="238.63" r="9.8"/>
<circle cx="395.7" cy="238.78" r="9.8"/>
<circle cx="397.9" cy="236.67" r="9.8"/>
<circle cx="400.04" cy="236.96" r="9.8"/>
<circle cx="402.12" cy="237.5" r="9.8"/>
<circle cx="404.15" cy="237.45" r="9.8"/>
<circle cx="406.12" cy="237.21" r="9.8"/>
<circle cx="408.04" cy="237.11" r="9.8"/>
<circle cx="409.91" cy="239.91" r="9.8"/>
<circle cx="411.74" cy="239.72" r="9.8"/>
<circle cx="413.53" cy="238.6" r="9.8"/>
<circle cx="415.27" cy="239.05" r="9.8"/>
<circle cx="416.98" cy="241.91" r="9.8"/>
<circle cx="418.65" cy="241.58" r="9.8"/>
<circle cx="420.28" cy="242.25" r="9.8"/>
<circle cx="421.88" cy="241.23" r="9.8"/>
<circle cx="423.45" cy="239.47" r="9.8"/>
<circle cx="424.98" cy="239.79" r="9.8"/>
<circle cx="426.48" cy="237.17" r="9.8"/>
<circle cx="427.96" cy="237.57" r="9.8"/>
<circle cx="429.4" cy="237.41" r="9.8"/>
<circle cx="430.82" cy="237.24" r="9.8"/>
<circle cx="432.21" cy="235.72" r="9.8"/>
<circle cx="433.58" cy="235.85" r="9.8"/>
<circle cx="434.93" cy="236.12" r="9.8"/>
<circle cx="436.25" cy="236.03" r="9.8"/>
<circle cx="437.54" cy="236.38" r="9.8"/>
<circle cx="438.82" cy="236.31" r="9.8"/>
<circle cx="440.07" cy="236.27" r="9.8"/>
<circle cx="441.31" cy="237.62" r="9.8"/>
<circle cx="442.52" cy="237.53" r="9.8"/>
<circle cx="443.72" cy="237.34" r="9.8"/>
<circle cx="444.9" cy="238" r="9.8"/>
<circle cx="446.06" cy="238.95" r="9.8"/>
<circle cx="447.2" cy="239.25" r="9.8"/>
<circle cx="448.32" cy="239.78" r="9.8"/>
<circle cx="449.43" cy="239.89" r="9.8"/>
<circle cx="450.52" cy="240.19" r="9.8"/>
<circle cx="451.6" cy="240.02" r="9.8"/>
<circle cx="452.66" cy="239.13" r="9.8"/>
<circle cx="453.71" cy="240.42" r="9.8"/>
<circle cx="454.74" cy="240.82" r="9.8"/>
<circle cx="455.76" cy="240.18" r="9.8"/>
<circle cx="456.77" cy="239.52" r="9.8"/>
<circle cx="457.76" cy="239.84" r="9.8"/>
<circle cx="458.74" cy="238.52" r="9.8"/>
<circle cx="459.7" cy="237.59" r="9.8"/>
<circle cx="460.66" cy="238.97" r="9.8"/>
<circle cx="461.6" cy="238.01" r="9.8"/>
<circle cx="462.53" cy="239.18" r="9.8"/>
<circle cx="463.45" cy="237.57" r="9.8"/>
<circle cx="464.36" cy="236.2" r="9.8"/>
<circle cx="465.26" cy="237.35" r="9.8"/>
<circle cx="466.15" cy="239.32" r="9.8"/>
<circle cx="467.03" cy="237.64" r="9.8"/>
<circle cx="467.89" cy="236.74" r="9.8"/>
<circle cx="468.75" cy="237.12" r="9.8"/>
<circle cx="469.6" cy="238.04" r="9.8"/>
<circle cx="470.44" cy="237.92" r="9.8"/>
<circle cx="471.27" cy="237.55" r="9.8"/>
<circle cx="472.09" cy="238.49" r="9.8"/>
<circle cx="472.9" cy="237.76" r="9.8"/>
<circle cx="473.71" cy="237.08" r="9.8"/>
<circle cx="474.5" cy="237.47" r="9.8"/>
<circle cx="475.29" cy="238.22" r="9.8"/>
<circle cx="476.07" cy="237.6" r="9.8"/>
<circle cx="476.84" cy="237.57" r="9.8"/>
<circle cx="477.6" cy="235.83" r="9.8"/>
<circle cx="478.35" cy="236.55" r="9.8"/>
<circle cx="479.1" cy="237.24" r="9.8"/>
<circle cx="479.84" cy="236.43" r="9.8"/>
<circle cx="480.58" cy="237.57" r="9.8"/>
<circle cx="481.3" cy="237.25" r="9.8"/>
<circle cx="482.02" cy="237.6" r="9.8"/>
<circle cx="482.74" cy="236.82" r="9.8"/>
<circle cx="483.44" cy="239.17" r="9.8"/>
<circle cx="484.14" cy="238.3" r="9.8"/>
<circle cx="484.83" cy="237.33" r="9.8"/>
<circle cx="485.52" cy="237.78" r="9.8"/>
<circle cx="486.2" cy="240.01" r="9.8"/>
<circle cx="486.88" cy="237.9" r="9.8"/>
<circle cx="487.55" cy="239.13" r="9.8"/>
<circle cx="488.21" cy="239.46" r="9.8"/>
<circle cx="488.87" cy="238.94" r="9.8"/>
<circle cx="489.52" cy="238.25" r="9.8"/>
<circle cx="490.16" cy="239.57" r="9.8"/>
<circle cx="490.8" cy="239.94" r="9.8"/>
<circle cx="491.44" cy="240.76" r="9.8"/>
<circle cx="492.07" cy="240.68" r="9.8"/>
<circle cx="492.69" cy="240.24" r="9.8"/>
<circle cx="493.31" cy="241.05" r="9.8"/>
<circle cx="493.93" cy="240.91" r="9.8"/>
<circle cx="494.54" cy="240.73" r="9.8"/>
<circle cx="495.14" cy="240.67" r="9.8"/>
<circle cx="495.74" cy="240.45" r="9.8"/>
<circle cx="496.34" cy="241.19" r="9.8"/>
<circle cx="496.93" cy="239.76" r="9.8"/>
<circle cx="497.52" cy="240.03" r="9.8"/>
<circle cx="498.1" cy="240.44" r="9.8"/>
<circle cx="498.68" cy="239.13" r="9.8"/>
<circle cx="499.25" cy="239.8" r="9.8"/>
<circle cx="499.82" cy="238.37" r="9.8"/>
<circle cx="500.38" cy="239.23" r="9.8"/>
<circle cx="500.94" cy="240.02" r="9.8"/>
<circle cx="501.5" cy="239.78" r="9.8"/>
<circle cx="502.05" cy="239.04" r="9.8"/>
<circle cx="502.6" cy="238.65" r="9.8"/>
<circle cx="503.14" cy="237.44" r="9.8"/>
<circle cx="503.68" cy="239.78" r="9.8"/>
<circle cx="504.22" cy="238.47" r="9.8"/>
<circle cx="504.75" cy="238.67" r="9.8"/>
<circle cx="505.28" cy="236.84" r="9.8"/>
<circle cx="505.81" cy="237.16" r="9.8"/>
<circle cx="506.33" cy="235.62" r="9.8"/>
<circle cx="506.85" cy="237.48" r="9.8"/>
<circle cx="507.36" cy="237.4" r="9.8"/>
<circle cx="507.87" cy="234.95" r="9.8"/>
<circle cx="508.38" cy="236.26" r="9.8"/>
<circle cx="508.88" cy="236.66" r="9.8"/>
<circle cx="509.39" cy="234.62" r="9.8"/>
<circle cx="509.88" cy="234.46" r="9.8"/>
<circle cx="510.38" cy="234.99" r="9.8"/>
<circle cx="510.87" cy="235.27" r="9.8"/>
<circle cx="511.36" cy="234.62" r="9.8"/>
<circle cx="511.84" cy="235.75" r="9.8"/>
<circle cx="512.32" cy="235.92" r="9.8"/>
<circle cx="512.8" cy="236.25" r="9.8"/>
<circle cx="513.28" cy="236.35" r="9.8"/>
<circle cx="513.75" cy="237.05" r="9.8"/>
<circle cx="514.22" cy="236.85" r="9.8"/>
<circle cx="514.69" cy="234.97" r="9.8"/>
<circle cx="515.15" cy="235.72" r="9.8"/>
<circle cx="515.62" cy="235.39" r="9.8"/>
<circle cx="516.07" cy="235.51" r="9.8"/>
<circle cx="516.53" cy="236.45" r="9.8"/>
<circle cx="516.98" cy="236.66" r="9.8"/>
<circle cx="517.43" cy="237.2" r="9.8"/>
<circle cx="517.88" cy="235.7" r="9.8"/>
<circle cx="518.33" cy="236.14" r="9.8"/>
<circle cx="518.77" cy="237.28" r="9.8"/>
<circle cx="519.21" cy="237.3" r="9.8"/>
<circle cx="519.65" cy="237.38" r="9.8"/>
<circle cx="520.08" cy="237.74" r="9.8"/>
<circle cx="520.51" cy="237.34" r="9.8"/>
<circle cx="520.94" cy="238.66" r="9.8"/>
<circle cx="521.37" cy="238.53" r="9.8"/>
<circle cx="521.8" cy="238.32" r="9.8"/>
<circle cx="522.22" cy="237.99" r="9.8"/>
<circle cx="522.64" cy="238.52" r="9.8"/>
<circle cx="523.06" cy="236.6" r="9.8"/>
<circle cx="523.48" cy="238.1" r="9.8"/>
<circle cx="523.89" cy="239.02" r="9.8"/>
<circle cx="524.3" cy="237.88" r="9.8"/>
<circle cx="524.71" cy="239.33" r="9.8"/>
<circle cx="525.12" cy="239.36" r="9.8"/>
<circle cx="525.52" cy="238.21" r="9.8"/>
<circle cx="525.92" cy="239.17" r="9.8"/>
<circle cx="526.33" cy="239.16" r="9.8"/>
<circle cx="526.72" cy="239.82" r="9.8"/>
<circle cx="527.12" cy="239.97" r="9.8"/>
<circle cx="527.51" cy="239.48" r="9.8"/>
<circle cx="527.91" cy="238.84" r="9.8"/>
<circle cx="528.3" cy="239.41" r="9.8"/>
<circle cx="528.69" cy="239.48" r="9.8"/>
<circle cx="529.07" cy="240.11" r="9.8"/>
<circle cx="529.46" cy="239.75" r="9.8"/>
<circle cx="529.84" cy="238.92" r="9.8"/>
<circle cx="530.22" cy="238.39" r="9.8"/>
<circle cx="530.6" cy="239.15" r="9.8"/>
<circle cx="530.97" cy="238.82" r="9.8"/>
<circle cx="531.35" cy="238.49" r="9.8"/>
<circle cx="531.72" cy="239.25" r="9.8"/>
<circle cx="532.09" cy="238.92" r="9.8"/>
<circle cx="532.46" cy="239.35" r="9.8"/>
<circle cx="532.83" cy="239.64" r="9.8"/>
<circle cx="533.2" cy="238.85" r="9.8"/>
<circle cx="533.56" cy="241" r="9.8"/>
<circle cx="533.92" cy="238.84" r="9.8"/>
<circle cx="534.28" cy="239.93" r="9.8"/>
<circle cx="534.64" cy="239.1" r="9.8"/>
<circle cx="535" cy="239.86" r="9.8"/>
<circle cx="535.36" cy="237.02" r="9.8"/>
<circle cx="535.71" cy="238.28" r="9.8"/>
<circle cx="536.06" cy="239.03" r="9.8"/>
<circle cx="536.41" cy="239.28" r="9.8"/>
<circle cx="536.76" cy="240.63" r="9.8"/>
<circle cx="537.11" cy="238.98" r="9.8"/>
<circle cx="537.45" cy="239.7" r="9.8"/>
<circle cx="537.8" cy="239.26" r="9.8"/>
<circle cx="538.14" cy="239.37" r="9.8"/>
<circle cx="538.48" cy="238.98" r="9.8"/>
<circle cx="538.82" cy="238.42" r="9.8"/>
<circle cx="539.16" cy="238.92" r="9.8"/>
<circle cx="539.5" cy="237.62" r="9.8"/>
<circle cx="539.83" cy="239.39" r="9.8"/>
<circle cx="540.17" cy="237.61" r="9.8"/>
<circle cx="540.5" cy="238.59" r="9.8"/>
<circle cx="540.83" cy="240.06" r="9.8"/>
<circle cx="541.16" cy="238.15" r="9.8"/>
<circle cx="541.49" cy="238.32" r="9.8"/>
<circle cx="541.81" cy="239.2" r="9.8"/>
<circle cx="542.14" cy="238.26" r="9.8"/>
<circle cx="542.46" cy="237.57" r="9.8"/>
<circle cx="542.78" cy="238.39" r="9.8"/>
<circle cx="543.11" cy="238.62" r="9.8"/>
<circle cx="543.42" cy="238.69" r="9.8"/>
<circle cx="543.74" cy="237.47" r="9.8"/>
<circle cx="544.06" cy="239.45" r="9.8"/>
<circle cx="544.38" cy="239.35" r="9.8"/>
<circle cx="544.69" cy="237.99" r="9.8"/>
<circle cx="545" cy="238.15" r="9.8"/>
<circle cx="545.31" cy="237.56" r="9.8"/>
<circle cx="545.63" cy="238.99" r="9.8"/>
<circle cx="545.93" cy="237.25" r="9.8"/>
<circle cx="546.24" cy="238.31" r="9.8"/>
<circle cx="546.55" cy="237.35" r="9.8"/>
<circle cx="546.85" cy="237.13" r="9.8"/>
<circle cx="547.16" cy="238.21" r="9.8"/>
<circle cx="547.46" cy="238.66" r="9.8"/>
<circle cx="547.76" cy="237.53" r="9.8"/>
<circle cx="548.06" cy="236.95" r="9.8"/>
<circle cx="548.36" cy="238.09" r="9.8"/>
<circle cx="548.66" cy="237.35" r="9.8"/>
<circle cx="548.96" cy="237.59" r="9.8"/>
<circle cx="549.26" cy="238.51" r="9.8"/>
<circle cx="549.55" cy="238.14" r="9.8"/>
<circle cx="549.84" cy="236.77" r="9.8"/>
<circle cx="550.14" cy="238.96" r="9.8"/>
<circle cx="550.43" cy="237.08" r="9.8"/>
<circle cx="550.72" cy="237.66" r="9.8"/>
<circle cx="551.01" cy="236.46" r="9.8"/>
<circle cx="551.3" cy="236.89" r="9.8"/>
<circle cx="551.58" cy="235.48" r="9.8"/>
<circle cx="551.87" cy="238.26" r="9.8"/>
<circle cx="552.15" cy="237.88" r="9.8"/>
<circle cx="552.44" cy="235.77" r="9.8"/>
<circle cx="552.72" cy="235.49" r="9.8"/>
<circle cx="553" cy="235.36" r="9.8"/>
<circle cx="553.28" cy="237.56" r="9.8"/>
<circle cx="553.56" cy="236.21" r="9.8"/>
<circle cx="553.84" cy="236.5" r="9.8"/>
<circle cx="554.12" cy="236.27" r="9.8"/>
<circle cx="554.39" cy="236.39" r="9.8"/>
<circle cx="554.67" cy="235.6" r="9.8"/>
<circle cx="554.94" cy="236.46" r="9.8"/>
<circle cx="555.22" cy="235.28" r="9.8"/>
<circle cx="555.49" cy="236.36" r="9.8"/>
<circle cx="555.76" cy="236.65" r="9.8"/>
<circle cx="556.03" cy="236.77" r="9.8"/>
<circle cx="556.3" cy="236.21" r="9.8"/>
<circle cx="556.57" cy="235.67" r="9.8"/>
<circle cx="556.84" cy="236.52" r="9.8"/>
<circle cx="557.11" cy="236.02" r="9.8"/>
<circle cx="557.37" cy="237.67" r="9.8"/>
<circle cx="557.64" cy="237.05" r="9.8"/>
<circle cx="557.9" cy="236.36" r="9.8"/>
<circle cx="558.16" cy="236.1" r="9.8"/>
<circle cx="558.43" cy="235.95" r="9.8"/>
<circle cx="558.69" cy="235.79" r="9.8"/>
<circle cx="558.95" cy="236.3" r="9.8"/>
<circle cx="559.21" cy="236.85" r="9.8"/>
<circle cx="559.47" cy="237.08" r="9.8"/>
<circle cx="559.72" cy="237.17" r="9.8"/>
<circle cx="559.98" cy="238.44" r="9.8"/>
<circle cx="560.24" cy="236.26" r="9.8"/>
<circle cx="560.49" cy="236.89" r="9.8"/>
<circle cx="560.75" cy="239.18" r="9.8"/>
<circle cx="561" cy="235.51" r="9.8"/>
</g>
<polyline fill="none" stroke="#4a4a4a" stroke-width="2.2" stroke-linejoin="round" points="128,313 180.62,197.8 211.4,149.1 233.24,125 250.18,109.5 264.02,101 275.72,95.5 285.86,92.54 294.8,89.87 302.8,87.78 310.03,86.1 316.64,84.55 322.72,84.32 328.34,83.81 333.58,83.32 338.48,83.28 343.08,83.02 347.42,82.88 351.53,82.62 355.42,82.54 359.12,82.98 362.65,83.14 366.03,82.08 369.26,82.08 372.36,82.3 375.34,81.33 378.2,81.78 380.96,81.96 383.63,83.19 386.2,82.96 388.69,83.35 391.1,82.19 393.44,81.95 395.7,81.31 397.9,79.81 400.04,81.8 402.12,81.75 404.15,80.31 406.12,82.25 408.04,81.55 409.91,81.67 411.74,81.19 413.53,79.4 415.27,80.43 416.98,82.12 418.65,81.02 420.28,81.26 421.88,81.47 423.45,81.8 424.98,82.94 426.48,83.65 427.96,82.11 429.4,81.4 430.82,82.53 432.21,80.08 433.58,79.93 434.93,81.09 436.25,81.44 437.54,80.58 438.82,80.8 440.07,82.21 441.31,82.25 442.52,80.91 443.72,81.54 444.9,80.91 446.06,81.31 447.2,80.44 448.32,80.12 449.43,79.67 450.52,80.67 451.6,80.94 452.66,79.65 453.71,80.83 454.74,79.83 455.76,80.8 456.77,81.67 457.76,82.59 458.74,81.35 459.7,81.84 460.66,82.26 461.6,81.06 462.53,82.38 463.45,81.9 464.36,82.77 465.26,81.56 466.15,80.84 467.03,82.37 467.89,82.43 468.75,81.63 469.6,82.58 470.44,81.42 471.27,80.89 472.09,81.47 472.9,79.53 473.71,79.94 474.5,80.17 475.29,80.6 476.07,79.56 476.84,79.76 477.6,78.86 478.35,79.57 479.1,80.67 479.84,78.87 480.58,81.45 481.3,79.23 482.02,80 482.74,80.39 483.44,81.36 484.14,79.84 484.83,79.42 485.52,81.84 486.2,82.21 486.88,82.25 487.55,83.99 488.21,82.12 488.87,82.18 489.52,82.69 490.16,82.17 490.8,83.09 491.44,80.62 492.07,81.15 492.69,78.52 493.31,81.75 493.93,80.64 494.54,81.53 495.14,82.39 495.74,80.58 496.34,80.33 496.93,80.12 497.52,79.87 498.1,80.1 498.68,81.21 499.25,80.85 499.82,81.02 500.38,80.98 500.94,82.02 501.5,81.86 502.05,81.51 502.6,82.3 503.14,81.78 503.68,81.08 504.22,83.24 504.75,82.49 505.28,81.37 505.81,82.97 506.33,82.32 506.85,80.71 507.36,83.13 507.87,81.96 508.38,82.25 508.88,81.51 509.39,81.05 509.88,79.74 510.38,81.56 510.87,80.62 511.36,80.2 511.84,80.55 512.32,80.2 512.8,80.56 513.28,79.63 513.75,79.84 514.22,78.12 514.69,79.48 515.15,80.38 515.62,80.95 516.07,79.66 516.53,79.94 516.98,81.41 517.43,80 517.88,80.97 518.33,81.86 518.77,80.69 519.21,81.77 519.65,80.35 520.08,81.21 520.51,81.09 520.94,81.35 521.37,82.24 521.8,83.32 522.22,80.93 522.64,81.03 523.06,81.9 523.48,80.66 523.89,81.88 524.3,81.9 524.71,81.17 525.12,81.75 525.52,80 525.92,81.76 526.33,79.83 526.72,80.41 527.12,80.42 527.51,80.44 527.91,81.35 528.3,80.64 528.69,80.17 529.07,80.85 529.46,81.61 529.84,80.29 530.22,80.54 530.6,81.21 530.97,80.42 531.35,79.17 531.72,82.21 532.09,82.01 532.46,78.7 532.83,80.31 533.2,80.74 533.56,81.26 533.92,81.11 534.28,80.45 534.64,79.93 535,80.97 535.36,81.82 535.71,80.24 536.06,80.41 536.41,81.33 536.76,79.92 537.11,81.37 537.45,81.34 537.8,82.16 538.14,81.33 538.48,81.28 538.82,81.75 539.16,82.1 539.5,81.68 539.83,82.27 540.17,82.91 540.5,83.29 540.83,83.73 541.16,81.76 541.49,82.05 541.81,80.4 542.14,83.89 542.46,81.77 542.78,82.29 543.11,82.7 543.42,81.15 543.74,82.55 544.06,82.1 544.38,80.6 544.69,82.22 545,82.87 545.31,80.35 545.63,82.41 545.93,81.85 546.24,81.98 546.55,81.87 546.85,82.48 547.16,81.17 547.46,81.96 547.76,80.85 548.06,81.68 548.36,80.36 548.66,80.84 548.96,82.23 549.26,81.13 549.55,80.57 549.84,79.7 550.14,79.91 550.43,80.63 550.72,81.15 551.01,80.68 551.3,80.69 551.58,80.17 551.87,81.23 552.15,79.77 552.44,79.59 552.72,80.68 553,79.97 553.28,79.65 553.56,79.36 553.84,79.57 554.12,80.24 554.39,79.98 554.67,78.7 554.94,79.97 555.22,79.75 555.49,78.78 555.76,80.17 556.03,79.31 556.3,79.26 556.57,80.15 556.84,80.57 557.11,78.96 557.37,79.87 557.64,78.83 557.9,81.39 558.16,79.17 558.43,80.54 558.69,79.1 558.95,80.3 559.21,81.47 559.47,77.71 559.72,79.44 559.98,80.25 560.24,79.83 560.49,79.44 560.75,81.77 561,80.19"/>
<g fill="#8a8a8a" stroke="#525252" stroke-width="1.8" stroke-linejoin="round">
<polygon points="128,302.75 139,323.25 117,323.25"/>
<polygon points="180.62,187.55 191.62,208.05 169.62,208.05"/>
<polygon points="211.4,138.85 222.4,159.35 200.4,159.35"/>
<polygon points="233.24,114.75 244.24,135.25 222.24,135.25"/>
<polygon points="250.18,99.25 261.18,119.75 239.18,119.75"/>
<polygon points="264.02,90.75 275.02,111.25 253.02,111.25"/>
<polygon points="275.72,85.25 286.72,105.75 264.72,105.75"/>
<polygon points="285.86,82.29 296.86,102.79 274.86,102.79"/>
<polygon points="294.8,79.62 305.8,100.12 283.8,100.12"/>
<polygon points="302.8,77.53 313.8,98.03 291.8,98.03"/>
<polygon points="310.03,75.85 321.03,96.35 299.03,96.35"/>
<polygon points="316.64,74.3 327.64,94.8 305.64,94.8"/>
<polygon points="322.72,74.07 333.72,94.57 311.72,94.57"/>
<polygon points="328.34,73.56 339.34,94.06 317.34,94.06"/>
<polygon points="333.58,73.07 344.58,93.57 322.58,93.57"/>
<polygon points="338.48,73.03 349.48,93.53 327.48,93.53"/>
<polygon points="343.08,72.77 354.08,93.27 332.08,93.27"/>
<polygon points="347.42,72.63 358.42,93.13 336.42,93.13"/>
<polygon points="351.53,72.37 362.53,92.87 340.53,92.87"/>
<polygon points="355.42,72.29 366.42,92.79 344.42,92.79"/>
<polygon points="359.12,72.73 370.12,93.23 348.12,93.23"/>
<polygon points="362.65,72.89 373.65,93.39 351.65,93.39"/>
<polygon points="366.03,71.83 377.03,92.33 355.03,92.33"/>
<polygon points="369.26,71.83 380.26,92.33 358.26,92.33"/>
<polygon points="372.36,72.05 383.36,92.55 361.36,92.55"/>
<polygon points="375.34,71.08 386.34,91.58 364.34,91.58"/>
<polygon points="378.2,71.53 389.2,92.03 367.2,92.03"/>
<polygon points="380.96,71.71 391.96,92.21 369.96,92.21"/>
<polygon points="383.63,72.94 394.63,93.44 372.63,93.44"/>
<polygon points="386.2,72.71 397.2,93.21 375.2,93.21"/>
<polygon points="388.69,73.1 399.69,93.6 377.69,93.6"/>
<polygon points="391.1,71.94 402.1,92.44 380.1,92.44"/>
<polygon points="393.44,71.7 404.44,92.2 382.44,92.2"/>
<polygon points="395.7,71.06 406.7,91.56 384.7,91.56"/>
<polygon points="397.9,69.56 408.9,90.06 386.9,90.06"/>
<polygon points="400.04,71.55 411.04,92.05 389.04,92.05"/>
<polygon points="402.12,71.5 413.12,92 391.12,92"/>
<polygon points="404.15,70.06 415.15,90.56 393.15,90.56"/>
<polygon points="406.12,72 417.12,92.5 395.12,92.5"/>
<polygon points="408.04,71.3 419.04,91.8 397.04,91.8"/>
<polygon points="409.91,71.42 420.91,91.92 398.91,91.92"/>
<polygon points="411.74,70.94 422.74,91.44 400.74,91.44"/>
<polygon points="413.53,69.15 424.53,89.65 402.53,89.65"/>
<polygon points="415.27,70.18 426.27,90.68 404.27,90.68"/>
<polygon points="416.98,71.87 427.98,92.37 405.98,92.37"/>
<polygon points="418.65,70.77 429.65,91.27 407.65,91.27"/>
<polygon points="420.28,71.01 431.28,91.51 409.28,91.51"/>
<polygon points="421.88,71.22 432.88,91.72 410.88,91.72"/>
<polygon points="423.45,71.55 434.45,92.05 412.45,92.05"/>
<polygon points="424.98,72.69 435.98,93.19 413.98,93.19"/>
<polygon points="426.48,73.4 437.48,93.9 415.48,93.9"/>
<polygon points="427.96,71.86 438.96,92.36 416.96,92.36"/>
<polygon points="429.4,71.15 440.4,91.65 418.4,91.65"/>
<polygon points="430.82,72.28 441.82,92.78 419.82,92.78"/>
<polygon points="432.21,69.83 443.21,90.33 421.21,90.33"/>
<polygon points="433.58,69.68 444.58,90.18 422.58,90.18"/>
<polygon points="434.93,70.84 445.93,91.34 423.93,91.34"/>
<polygon points="436.25,71.19 447.25,91.69 425.25,91.69"/>
<polygon points="437.54,70.33 448.54,90.83 426.54,90.83"/>
<polygon points="438.82,70.55 449.82,91.05 427.82,91.05"/>
<polygon points="440.07,71.96 451.07,92.46 429.07,92.46"/>
<polygon points="441.31,72 452.31,92.5 430.31,92.5"/>
<polygon points="442.52,70.66 453.52,91.16 431.52,91.16"/>
<polygon points="443.72,71.29 454.72,91.79 432.72,91.79"/>
<polygon points="444.9,70.66 455.9,91.16 433.9,91.16"/>
<polygon points="446.06,71.06 457.06,91.56 435.06,91.56"/>
<polygon points="447.2,70.19 458.2,90.69 436.2,90.69"/>
<polygon points="448.32,69.87 459.32,90.37 437.32,90.37"/>
<polygon points="449.43,69.42 460.43,89.92 438.43,89.92"/>
<polygon points="450.52,70.42 461.52,90.92 439.52,90.92"/>
<polygon points="451.6,70.69 462.6,91.19 440.6,91.19"/>
<polygon points="452.66,69.4 463.66,89.9 441.66,89.9"/>
<polygon points="453.71,70.58 464.71,91.08 442.71,91.08"/>
<polygon points="454.74,69.58 465.74,90.08 443.74,90.08"/>
<polygon points="455.76,70.55 466.76,91.05 444.76,91.05"/>
<polygon points="456.77,71.42 467.77,91.92 445.77,91.92"/>
<polygon points="457.76,72.34 468.76,92.84 446.76,92.84"/>
<polygon points="458.74,71.1 469.74,91.6 447.74,91.6"/>
<polygon points="459.7,71.59 470.7,92.09 448.7,92.09"/>
<polygon points="460.66,72.01 471.66,92.51 449.66,92.51"/>
<polygon points="461.6,70.81 472.6,91.31 450.6,91.31"/>
<polygon points="462.53,72.13 473.53,92.63 451.53,92.63"/>
<polygon points="463.45,71.65 474.45,92.15 452.45,92.15"/>
<polygon points="464.36,72.52 475.36,93.02 453.36,93.02"/>
<polygon points="465.26,71.31 476.26,91.81 454.26,91.81"/>
<polygon points="466.15,70.59 477.15,91.09 455.15,91.09"/>
<polygon points="467.03,72.12 478.03,92.62 456.03,92.62"/>
<polygon points="467.89,72.18 478.89,92.68 456.89,92.68"/>
<polygon points="468.75,71.38 479.75,91.88 457.75,91.88"/>
<polygon points="469.6,72.33 480.6,92.83 458.6,92.83"/>
<polygon points="470.44,71.17 481.44,91.67 459.44,91.67"/>
<polygon points="471.27,70.64 482.27,91.14 460.27,91.14"/>
<polygon points="472.09,71.22 483.09,91.72 461.09,91.72"/>
<polygon points="472.9,69.28 483.9,89.78 461.9,89.78"/>
<polygon points="473.71,69.69 484.71,90.19 462.71,90.19"/>
<polygon points="474.5,69.92 485.5,90.42 463.5,90.42"/>
<polygon points="475.29,70.35 486.29,90.85 464.29,90.85"/>
<polygon points="476.07,69.31 487.07,89.81 465.07,89.81"/>
<polygon points="476.84,69.51 487.84,90.01 465.84,90.01"/>
<polygon points="477.6,68.61 488.6,89.11 466.6,89.11"/>
<polygon points="478.35,69.32 489.35,89.82 467.35,89.82"/>
<polygon points="479.1,70.42 490.1,90.92 468.1,90.92"/>
<polygon points="479.84,68.62 490.84,89.12 468.84,89.12"/>
<polygon points="480.58,71.2 491.58,91.7 469.58,91.7"/>
<polygon points="481.3,68.98 492.3,89.48 470.3,89.48"/>
<polygon points="482.02,69.75 493.02,90.25 471.02,90.25"/>
<polygon points="482.74,70.14 493.74,90.64 471.74,90.64"/>
<polygon points="483.44,71.11 494.44,91.61 472.44,91.61"/>
<polygon points="484.14,69.59 495.14,90.09 473.14,90.09"/>
<polygon points="484.83,69.17 495.83,89.67 473.83,89.67"/>
<polygon points="485.52,71.59 496.52,92.09 474.52,92.09"/>
<polygon points="486.2,71.96 497.2,92.46 475.2,92.46"/>
<polygon points="486.88,72 497.88,92.5 475.88,92.5"/>
<polygon points="487.55,73.74 498.55,94.24 476.55,94.24"/>
<polygon points="488.21,71.87 499.21,92.37 477.21,92.37"/>
<polygon points="488.87,71.93 499.87,92.43 477.87,92.43"/>
<polygon points="489.52,72.44 500.52,92.94 478.52,92.94"/>
<polygon points="490.16,71.92 501.16,92.42 479.16,92.42"/>
<polygon points="490.8,72.84 501.8,93.34 479.8,93.34"/>
<polygon points="491.44,70.37 502.44,90.87 480.44,90.87"/>
<polygon points="492.07,70.9 503.07,91.4 481.07,91.4"/>
<polygon points="492.69,68.27 503.69,88.77 481.69,88.77"/>
<polygon points="493.31,71.5 504.31,92 482.31,92"/>
<polygon points="493.93,70.39 504.93,90.89 482.93,90.89"/>
<polygon points="494.54,71.28 505.54,91.78 483.54,91.78"/>
<polygon points="495.14,72.14 506.14,92.64 484.14,92.64"/>
<polygon points="495.74,70.33 506.74,90.83 484.74,90.83"/>
<polygon points="496.34,70.08 507.34,90.58 485.34,90.58"/>
<polygon points="496.93,69.87 507.93,90.37 485.93,90.37"/>
<polygon points="497.52,69.62 508.52,90.12 486.52,90.12"/>
<polygon points="498.1,69.85 509.1,90.35 487.1,90.35"/>
<polygon points="498.68,70.96 509.68,91.46 487.68,91.46"/>
<polygon points="499.25,70.6 510.25,91.1 488.25,91.1"/>
<polygon points="499.82,70.77 510.82,91.27 488.82,91.27"/>
<polygon points="500.38,70.73 511.38,91.23 489.38,91.23"/>
<polygon points="500.94,71.77 511.94,92.27 489.94,92.27"/>
<polygon points="501.5,71.61 512.5,92.11 490.5,92.11"/>
<polygon points="502.05,71.26 513.05,91.76 491.05,91.76"/>
<polygon points="502.6,72.05 513.6,92.55 491.6,92.55"/>
<polygon points="503.14,71.53 514.14,92.03 492.14,92.03"/>
<polygon points="503.68,70.83 514.68,91.33 492.68,91.33"/>
<polygon points="504.22,72.99 515.22,93.49 493.22,93.49"/>
<polygon points="504.75,72.24 515.75,92.74 493.75,92.74"/>
<polygon points="505.28,71.12 516.28,91.62 494.28,91.62"/>
<polygon points="505.81,72.72 516.81,93.22 494.81,93.22"/>
<polygon points="506.33,72.07 517.33,92.57 495.33,92.57"/>
<polygon points="506.85,70.46 517.85,90.96 495.85,90.96"/>
<polygon points="507.36,72.88 518.36,93.38 496.36,93.38"/>
<polygon points="507.87,71.71 518.87,92.21 496.87,92.21"/>
<polygon points="508.38,72 519.38,92.5 497.38,92.5"/>
<polygon points="508.88,71.26 519.88,91.76 497.88,91.76"/>
<polygon points="509.39,70.8 520.39,91.3 498.39,91.3"/>
<polygon points="509.88,69.49 520.88,89.99 498.88,89.99"/>
<polygon points="510.38,71.31 521.38,91.81 499.38,91.81"/>
<polygon points="510.87,70.37 521.87,90.87 499.87,90.87"/>
<polygon points="511.36,69.95 522.36,90.45 500.36,90.45"/>
<polygon points="511.84,70.3 522.84,90.8 500.84,90.8"/>
<polygon points="512.32,69.95 523.32,90.45 501.32,90.45"/>
<polygon points="512.8,70.31 523.8,90.81 501.8,90.81"/>
<polygon points="513.28,69.38 524.28,89.88 502.28,89.88"/>
<polygon points="513.75,69.59 524.75,90.09 502.75,90.09"/>
<polygon points="514.22,67.87 525.22,88.37 503.22,88.37"/>
<polygon points="514.69,69.23 525.69,89.73 503.69,89.73"/>
<polygon points="515.15,70.13 526.15,90.63 504.15,90.63"/>
<polygon points="515.62,70.7 526.62,91.2 504.62,91.2"/>
<polygon points="516.07,69.41 527.07,89.91 505.07,89.91"/>
<polygon points="516.53,69.69 527.53,90.19 505.53,90.19"/>
<polygon points="516.98,71.16 527.98,91.66 505.98,91.66"/>
<polygon points="517.43,69.75 528.43,90.25 506.43,90.25"/>
<polygon points="517.88,70.72 528.88,91.22 506.88,91.22"/>
<polygon points="518.33,71.61 529.33,92.11 507.33,92.11"/>
<polygon points="518.77,70.44 529.77,90.94 507.77,90.94"/>
<polygon points="519.21,71.52 530.21,92.02 508.21,92.02"/>
<polygon points="519.65,70.1 530.65,90.6 508.65,90.6"/>
<polygon points="520.08,70.96 531.08,91.46 509.08,91.46"/>
<polygon points="520.51,70.84 531.51,91.34 509.51,91.34"/>
<polygon points="520.94,71.1 531.94,91.6 509.94,91.6"/>
<polygon points="521.37,71.99 532.37,92.49 510.37,92.49"/>
<polygon points="521.8,73.07 532.8,93.57 510.8,93.57"/>
<polygon points="522.22,70.68 533.22,91.18 511.22,91.18"/>
<polygon points="522.64,70.78 533.64,91.28 511.64,91.28"/>
<polygon points="523.06,71.65 534.06,92.15 512.06,92.15"/>
<polygon points="523.48,70.41 534.48,90.91 512.48,90.91"/>
<polygon points="523.89,71.63 534.89,92.13 512.89,92.13"/>
<polygon points="524.3,71.65 535.3,92.15 513.3,92.15"/>
<polygon points="524.71,70.92 535.71,91.42 513.71,91.42"/>
<polygon points="525.12,71.5 536.12,92 514.12,92"/>
<polygon points="525.52,69.75 536.52,90.25 514.52,90.25"/>
<polygon points="525.92,71.51 536.92,92.01 514.92,92.01"/>
<polygon points="526.33,69.58 537.33,90.08 515.33,90.08"/>
<polygon points="526.72,70.16 537.72,90.66 515.72,90.66"/>
<polygon points="527.12,70.17 538.12,90.67 516.12,90.67"/>
<polygon points="527.51,70.19 538.51,90.69 516.51,90.69"/>
<polygon points="527.91,71.1 538.91,91.6 516.91,91.6"/>
<polygon points="528.3,70.39 539.3,90.89 517.3,90.89"/>
<polygon points="528.69,69.92 539.69,90.42 517.69,90.42"/>
<polygon points="529.07,70.6 540.07,91.1 518.07,91.1"/>
<polygon points="529.46,71.36 540.46,91.86 518.46,91.86"/>
<polygon points="529.84,70.04 540.84,90.54 518.84,90.54"/>
<polygon points="530.22,70.29 541.22,90.79 519.22,90.79"/>
<polygon points="530.6,70.96 541.6,91.46 519.6,91.46"/>
<polygon points="530.97,70.17 541.97,90.67 519.97,90.67"/>
<polygon points="531.35,68.92 542.35,89.42 520.35,89.42"/>
<polygon points="531.72,71.96 542.72,92.46 520.72,92.46"/>
<polygon points="532.09,71.76 543.09,92.26 521.09,92.26"/>
<polygon points="532.46,68.45 543.46,88.95 521.46,88.95"/>
<polygon points="532.83,70.06 543.83,90.56 521.83,90.56"/>
<polygon points="533.2,70.49 544.2,90.99 522.2,90.99"/>
<polygon points="533.56,71.01 544.56,91.51 522.56,91.51"/>
<polygon points="533.92,70.86 544.92,91.36 522.92,91.36"/>
<polygon points="534.28,70.2 545.28,90.7 523.28,90.7"/>
<polygon points="534.64,69.68 545.64,90.18 523.64,90.18"/>
<polygon points="535,70.72 546,91.22 524,91.22"/>
<polygon points="535.36,71.57 546.36,92.07 524.36,92.07"/>
<polygon points="535.71,69.99 546.71,90.49 524.71,90.49"/>
<polygon points="536.06,70.16 547.06,90.66 525.06,90.66"/>
<polygon points="536.41,71.08 547.41,91.58 525.41,91.58"/>
<polygon points="536.76,69.67 547.76,90.17 525.76,90.17"/>
<polygon points="537.11,71.12 548.11,91.62 526.11,91.62"/>
<polygon points="537.45,71.09 548.45,91.59 526.45,91.59"/>
<polygon points="537.8,71.91 548.8,92.41 526.8,92.41"/>
<polygon points="538.14,71.08 549.14,91.58 527.14,91.58"/>
<polygon points="538.48,71.03 549.48,91.53 527.48,91.53"/>
<polygon points="538.82,71.5 549.82,92 527.82,92"/>
<polygon points="539.16,71.85 550.16,92.35 528.16,92.35"/>
<polygon points="539.5,71.43 550.5,91.93 528.5,91.93"/>
<polygon points="539.83,72.02 550.83,92.52 528.83,92.52"/>
<polygon points="540.17,72.66 551.17,93.16 529.17,93.16"/>
<polygon points="540.5,73.04 551.5,93.54 529.5,93.54"/>
<polygon points="540.83,73.48 551.83,93.98 529.83,93.98"/>
<polygon points="541.16,71.51 552.16,92.01 530.16,92.01"/>
<polygon points="541.49,71.8 552.49,92.3 530.49,92.3"/>
<polygon points="541.81,70.15 552.81,90.65 530.81,90.65"/>
<polygon points="542.14,73.64 553.14,94.14 531.14,94.14"/>
<polygon points="542.46,71.52 553.46,92.02 531.46,92.02"/>
<polygon points="542.78,72.04 553.78,92.54 531.78,92.54"/>
<polygon points="543.11,72.45 554.11,92.95 532.11,92.95"/>
<polygon points="543.42,70.9 554.42,91.4 532.42,91.4"/>
<polygon points="543.74,72.3 554.74,92.8 532.74,92.8"/>
<polygon points="544.06,71.85 555.06,92.35 533.06,92.35"/>
<polygon points="544.38,70.35 555.38,90.85 533.38,90.85"/>
<polygon points="544.69,71.97 555.69,92.47 533.69,92.47"/>
<polygon points="545,72.62 556,93.12 534,93.12"/>
<polygon points="545.31,70.1 556.31,90.6 534.31,90.6"/>
<polygon points="545.63,72.16 556.63,92.66 534.63,92.66"/>
<polygon points="545.93,71.6 556.93,92.1 534.93,92.1"/>
<polygon points="546.24,71.73 557.24,92.23 535.24,92.23"/>
<polygon points="546.55,71.62 557.55,92.12 535.55,92.12"/>
<polygon points="546.85,72.23 557.85,92.73 535.85,92.73"/>
<polygon points="547.16,70.92 558.16,91.42 536.16,91.42"/>
<polygon points="547.46,71.71 558.46,92.21 536.46,92.21"/>
<polygon points="547.76,70.6 558.76,91.1 536.76,91.1"/>
<polygon points="548.06,71.43 559.06,91.93 537.06,91.93"/>
<polygon points="548.36,70.11 559.36,90.61 537.36,90.61"/>
<polygon points="548.66,70.59 559.66,91.09 537.66,91.09"/>
<polygon points="548.96,71.98 559.96,92.48 537.96,92.48"/>
<polygon points="549.26,70.88 560.26,91.38 538.26,91.38"/>
<polygon points="549.55,70.32 560.55,90.82 538.55,90.82"/>
<polygon points="549.84,69.45 560.84,89.95 538.84,89.95"/>
<polygon points="550.14,69.66 561.14,90.16 539.14,90.16"/>
<polygon points="550.43,70.38 561.43,90.88 539.43,90.88"/>
<polygon points="550.72,70.9 561.72,91.4 539.72,91.4"/>
<polygon points="551.01,70.43 562.01,90.93 540.01,90.93"/>
<polygon points="551.3,70.44 562.3,90.94 540.3,90.94"/>
<polygon points="551.58,69.92 562.58,90.42 540.58,90.42"/>
<polygon points="551.87,70.98 562.87,91.48 540.87,91.48"/>
<polygon points="552.15,69.52 563.15,90.02 541.15,90.02"/>
<polygon points="552.44,69.34 563.44,89.84 541.44,89.84"/>
<polygon points="552.72,70.43 563.72,90.93 541.72,90.93"/>
<polygon points="553,69.72 564,90.22 542,90.22"/>
<polygon points="553.28,69.4 564.28,89.9 542.28,89.9"/>
<polygon points="553.56,69.11 564.56,89.61 542.56,89.61"/>
<polygon points="553.84,69.32 564.84,89.82 542.84,89.82"/>
<polygon points="554.12,69.99 565.12,90.49 543.12,90.49"/>
<polygon points="554.39,69.73 565.39,90.23 543.39,90.23"/>
<polygon points="554.67,68.45 565.67,88.95 543.67,88.95"/>
<polygon points="554.94,69.72 565.94,90.22 543.94,90.22"/>
<polygon points="555.22,69.5 566.22,90 544.22,90"/>
<polygon points="555.49,68.53 566.49,89.03 544.49,89.03"/>
<polygon points="555.76,69.92 566.76,90.42 544.76,90.42"/>
<polygon points="556.03,69.06 567.03,89.56 545.03,89.56"/>
<polygon points="556.3,69.01 567.3,89.51 545.3,89.51"/>
<polygon points="556.57,69.9 567.57,90.4 545.57,90.4"/>
<polygon points="556.84,70.32 567.84,90.82 545.84,90.82"/>
<polygon points="557.11,68.71 568.11,89.21 546.11,89.21"/>
<polygon points="557.37,69.62 568.37,90.12 546.37,90.12"/>
<polygon points="557.64,68.58 568.64,89.08 546.64,89.08"/>
<polygon points="557.9,71.14 568.9,91.64 546.9,91.64"/>
<polygon points="558.16,68.92 569.16,89.42 547.16,89.42"/>
<polygon points="558.43,70.29 569.43,90.79 547.43,90.79"/>
<polygon points="558.69,68.85 569.69,89.35 547.69,89.35"/>
<polygon points="558.95,70.05 569.95,90.55 547.95,90.55"/>
<polygon points="559.21,71.22 570.21,91.72 548.21,91.72"/>
<polygon points="559.47,67.46 570.47,87.96 548.47,87.96"/>
<polygon points="559.72,69.19 570.72,89.69 548.72,89.69"/>
<polygon points="559.98,70 570.98,90.5 548.98,90.5"/>
<polygon points="560.24,69.58 571.24,90.08 549.24,90.08"/>
<polygon points="560.49,69.19 571.49,89.69 549.49,89.69"/>
<polygon points="560.75,71.52 571.75,92.02 549.75,92.02"/>
<polygon points="561,69.94 572,90.44 550,90.44"/>
</g>
</g>
<rect x="120.4" y="55.5" width="440.6" height="405.9" fill="none" stroke="#000" stroke-width="3.0"/>
<text transform="translate(211.4,495.7) scale(1,1.04)" x="0" y="0" font-family="'Liberation Sans', Arial, Helvetica, sans-serif" font-size="28" font-weight="normal" text-anchor="middle" fill="#000" stroke="#000" stroke-width="1.0" >0.01</text>
<text transform="translate(386.2,495.7) scale(1,1.04)" x="0" y="0" font-family="'Liberation Sans', Arial, Helvetica, sans-serif" font-size="28" font-weight="normal" text-anchor="middle" fill="#000" stroke="#000" stroke-width="1.0" >0.1</text>
<text transform="translate(561,495.7) scale(1,1.04)" x="0" y="0" font-family="'Liberation Sans', Arial, Helvetica, sans-serif" font-size="28" font-weight="normal" text-anchor="middle" fill="#000" stroke="#000" stroke-width="1.0" >1</text>
<text transform="translate(107.6,366.18) scale(1,1.04)" x="0" y="0" font-family="'Liberation Sans', Arial, Helvetica, sans-serif" font-size="28" font-weight="normal" text-anchor="end" fill="#000" stroke="#000" stroke-width="1.0" >0.02</text>
<text transform="translate(107.6,244.27) scale(1,1.04)" x="0" y="0" font-family="'Liberation Sans', Arial, Helvetica, sans-serif" font-size="28" font-weight="normal" text-anchor="end" fill="#000" stroke="#000" stroke-width="1.0" >0.04</text>
<text transform="translate(107.6,172.95) scale(1,1.04)" x="0" y="0" font-family="'Liberation Sans', Arial, Helvetica, sans-serif" font-size="28" font-weight="normal" text-anchor="end" fill="#000" stroke="#000" stroke-width="1.0" >0.06</text>
<text transform="translate(107.6,122.35) scale(1,1.04)" x="0" y="0" font-family="'Liberation Sans', Arial, Helvetica, sans-serif" font-size="28" font-weight="normal" text-anchor="end" fill="#000" stroke="#000" stroke-width="1.0" >0.08</text>
<text transform="translate(107.6,83.1) scale(1,1.04)" x="0" y="0" font-family="'Liberation Sans', Arial, Helvetica, sans-serif" font-size="28" font-weight="normal" text-anchor="end" fill="#000" stroke="#000" stroke-width="1.0" >0.1</text>
<rect x="255.4" y="320.5" width="279.6" height="112.8" fill="#fff" stroke="#b4b4b4" stroke-width="1.6"/>
<line x1="259.4" y1="341.1" x2="325.9" y2="341.1" stroke="#4a4a4a" stroke-width="2.2" />
<rect x="284" y="332.8" width="16.6" height="16.6" fill="#000" stroke="#111" stroke-width="1"/>
<text transform="translate(334,351.1) scale(1,1.04)" x="0" y="0" font-family="'Liberation Sans', Arial, Helvetica, sans-serif" font-size="31" font-weight="normal" text-anchor="start" fill="#000" stroke="#000" stroke-width="1.0" >CTAB, 0.1 mM</text>
<line x1="259.4" y1="377.2" x2="325.9" y2="377.2" stroke="#4a4a4a" stroke-width="2.2" />
<circle cx="292.3" cy="377.2" r="10" fill="#4f4f4f" stroke="#333" stroke-width="1.2"/>
<text transform="translate(334,387.2) scale(1,1.04)" x="0" y="0" font-family="'Liberation Sans', Arial, Helvetica, sans-serif" font-size="31" font-weight="normal" text-anchor="start" fill="#000" stroke="#000" stroke-width="1.0" >CTAB, 0.7 mM</text>
<line x1="259.4" y1="413.3" x2="325.9" y2="413.3" stroke="#4a4a4a" stroke-width="2.2" />
<polygon points="292.3,402.3 303.8,423.8 280.8,423.8" fill="#808080" stroke="#454545" stroke-width="1.2"/>
<text transform="translate(334,423.3) scale(1,1.04)" x="0" y="0" font-family="'Liberation Sans', Arial, Helvetica, sans-serif" font-size="31" font-weight="normal" text-anchor="start" fill="#000" stroke="#000" stroke-width="1.0" >CTAB, 1.3 mM</text>
<text x="340.6" y="550.9" font-family="'Liberation Sans', Arial, Helvetica, sans-serif" font-size="33.7" text-anchor="middle" stroke="#000" stroke-width="1.0">Time lag, <tspan font-family="'Liberation Serif', 'Times New Roman', serif">τ</tspan> (s)</text>
<text transform="translate(34.3,257.5) rotate(-90)" x="0" y="0" font-family="'Liberation Sans', Arial, Helvetica, sans-serif" font-size="33.7" text-anchor="middle" stroke="#000" stroke-width="1.0">MSD(<tspan font-family="'Liberation Serif', 'Times New Roman', serif">τ</tspan>) (μm<tspan font-size="21" dy="-12">2</tspan><tspan dy="12">)</tspan></text>
<text transform="translate(5.8,42.6) scale(0.93,1)" x="0" y="0" font-family="'Liberation Sans', Arial, Helvetica, sans-serif" font-size="54.5" font-weight="bold" text-anchor="start" fill="#000" stroke="#000" stroke-width="1.0" >a</text>
<defs><clipPath id="cb"><rect x="735.8" y="55.7" width="439.9" height="405.7"/></clipPath></defs>
<line x1="735.8" y1="201" x2="1175.7" y2="201" stroke="#3a3a3a" stroke-width="2.5" stroke-dasharray="3.3 3.6"/>
<g clip-path="url(#cb)">
<polyline fill="none" stroke="#555" stroke-width="2" points="802.18,201.4 908.9,329.9 962.26,394 988.94,265.5 1015.62,154.5 1042.3,246 1068.98,215 1095.66,168.7 1122.34,209.6"/>
<line x1="802.18" y1="177.4" x2="802.18" y2="227.2" stroke="#6a6a6a" stroke-width="2" />
<line x1="795.38" y1="177.4" x2="808.98" y2="177.4" stroke="#6a6a6a" stroke-width="2" />
<line x1="795.38" y1="227.2" x2="808.98" y2="227.2" stroke="#6a6a6a" stroke-width="2" />
<line x1="908.9" y1="310.5" x2="908.9" y2="349.3" stroke="#6a6a6a" stroke-width="2" />
<line x1="902.1" y1="310.5" x2="915.7" y2="310.5" stroke="#6a6a6a" stroke-width="2" />
<line x1="902.1" y1="349.3" x2="915.7" y2="349.3" stroke="#6a6a6a" stroke-width="2" />
<line x1="962.26" y1="355" x2="962.26" y2="439.6" stroke="#6a6a6a" stroke-width="2" />
<line x1="955.46" y1="355" x2="969.06" y2="355" stroke="#6a6a6a" stroke-width="2" />
<line x1="955.46" y1="439.6" x2="969.06" y2="439.6" stroke="#6a6a6a" stroke-width="2" />
<line x1="988.94" y1="241" x2="988.94" y2="292.2" stroke="#6a6a6a" stroke-width="2" />
<line x1="982.14" y1="241" x2="995.74" y2="241" stroke="#6a6a6a" stroke-width="2" />
<line x1="982.14" y1="292.2" x2="995.74" y2="292.2" stroke="#6a6a6a" stroke-width="2" />
<line x1="1015.62" y1="130.3" x2="1015.62" y2="179.4" stroke="#6a6a6a" stroke-width="2" />
<line x1="1008.82" y1="130.3" x2="1022.42" y2="130.3" stroke="#6a6a6a" stroke-width="2" />
<line x1="1008.82" y1="179.4" x2="1022.42" y2="179.4" stroke="#6a6a6a" stroke-width="2" />
<line x1="1042.3" y1="236.5" x2="1042.3" y2="256.5" stroke="#6a6a6a" stroke-width="2" />
<line x1="1035.5" y1="236.5" x2="1049.1" y2="236.5" stroke="#6a6a6a" stroke-width="2" />
<line x1="1035.5" y1="256.5" x2="1049.1" y2="256.5" stroke="#6a6a6a" stroke-width="2" />
<line x1="1068.98" y1="175.8" x2="1068.98" y2="261.2" stroke="#6a6a6a" stroke-width="2" />
<line x1="1062.18" y1="175.8" x2="1075.78" y2="175.8" stroke="#6a6a6a" stroke-width="2" />
<line x1="1062.18" y1="261.2" x2="1075.78" y2="261.2" stroke="#6a6a6a" stroke-width="2" />
<line x1="1095.66" y1="132" x2="1095.66" y2="212.5" stroke="#6a6a6a" stroke-width="2" />
<line x1="1088.86" y1="132" x2="1102.46" y2="132" stroke="#6a6a6a" stroke-width="2" />
<line x1="1088.86" y1="212.5" x2="1102.46" y2="212.5" stroke="#6a6a6a" stroke-width="2" />
<line x1="1122.34" y1="182.2" x2="1122.34" y2="239.9" stroke="#6a6a6a" stroke-width="2" />
<line x1="1115.54" y1="182.2" x2="1129.14" y2="182.2" stroke="#6a6a6a" stroke-width="2" />
<line x1="1115.54" y1="239.9" x2="1129.14" y2="239.9" stroke="#6a6a6a" stroke-width="2" />
<rect x="793.28" y="192.5" width="17.8" height="17.8" fill="#4a4a4a" stroke="#2e2e2e" stroke-width="1"/>
<rect x="900" y="321" width="17.8" height="17.8" fill="#4a4a4a" stroke="#2e2e2e" stroke-width="1"/>
<rect x="953.36" y="385.1" width="17.8" height="17.8" fill="#4a4a4a" stroke="#2e2e2e" stroke-width="1"/>
<rect x="980.04" y="256.6" width="17.8" height="17.8" fill="#4a4a4a" stroke="#2e2e2e" stroke-width="1"/>
<rect x="1006.72" y="145.6" width="17.8" height="17.8" fill="#4a4a4a" stroke="#2e2e2e" stroke-width="1"/>
<rect x="1033.4" y="237.1" width="17.8" height="17.8" fill="#4a4a4a" stroke="#2e2e2e" stroke-width="1"/>
<rect x="1060.08" y="206.1" width="17.8" height="17.8" fill="#4a4a4a" stroke="#2e2e2e" stroke-width="1"/>
<rect x="1086.76" y="159.8" width="17.8" height="17.8" fill="#4a4a4a" stroke="#2e2e2e" stroke-width="1"/>
<rect x="1113.44" y="200.7" width="17.8" height="17.8" fill="#4a4a4a" stroke="#2e2e2e" stroke-width="1"/>
</g>
<line x1="1017.6" y1="55.7" x2="1017.6" y2="461.4" stroke="#4f7db5" stroke-width="2.6" />
<line x1="775.5" y1="461.4" x2="775.5" y2="449.4" stroke="#000" stroke-width="2.3" />
<line x1="775.5" y1="55.7" x2="775.5" y2="67.7" stroke="#000" stroke-width="2.3" />
<line x1="908.9" y1="461.4" x2="908.9" y2="449.4" stroke="#000" stroke-width="2.3" />
<line x1="908.9" y1="55.7" x2="908.9" y2="67.7" stroke="#000" stroke-width="2.3" />
<line x1="1042.3" y1="461.4" x2="1042.3" y2="449.4" stroke="#000" stroke-width="2.3" />
<line x1="1042.3" y1="55.7" x2="1042.3" y2="67.7" stroke="#000" stroke-width="2.3" />
<line x1="842.2" y1="461.4" x2="842.2" y2="455.4" stroke="#000" stroke-width="2.3" />
<line x1="842.2" y1="55.7" x2="842.2" y2="61.7" stroke="#000" stroke-width="2.3" />
<line x1="975.6" y1="461.4" x2="975.6" y2="455.4" stroke="#000" stroke-width="2.3" />
<line x1="975.6" y1="55.7" x2="975.6" y2="61.7" stroke="#000" stroke-width="2.3" />
<line x1="1109" y1="461.4" x2="1109" y2="455.4" stroke="#000" stroke-width="2.3" />
<line x1="1109" y1="55.7" x2="1109" y2="61.7" stroke="#000" stroke-width="2.3" />
<line x1="735.8" y1="425.34" x2="747.8" y2="425.34" stroke="#000" stroke-width="2.3" />
<line x1="1175.7" y1="425.34" x2="1163.7" y2="425.34" stroke="#000" stroke-width="2.3" />
<line x1="735.8" y1="317.22" x2="747.8" y2="317.22" stroke="#000" stroke-width="2.3" />
<line x1="1175.7" y1="317.22" x2="1163.7" y2="317.22" stroke="#000" stroke-width="2.3" />
<line x1="735.8" y1="240.5" x2="747.8" y2="240.5" stroke="#000" stroke-width="2.3" />
<line x1="1175.7" y1="240.5" x2="1163.7" y2="240.5" stroke="#000" stroke-width="2.3" />
<line x1="735.8" y1="181" x2="747.8" y2="181" stroke="#000" stroke-width="2.3" />
<line x1="1175.7" y1="181" x2="1163.7" y2="181" stroke="#000" stroke-width="2.3" />
<line x1="735.8" y1="132.38" x2="747.8" y2="132.38" stroke="#000" stroke-width="2.3" />
<line x1="1175.7" y1="132.38" x2="1163.7" y2="132.38" stroke="#000" stroke-width="2.3" />
<line x1="735.8" y1="91.28" x2="747.8" y2="91.28" stroke="#000" stroke-width="2.3" />
<line x1="1175.7" y1="91.28" x2="1163.7" y2="91.28" stroke="#000" stroke-width="2.3" />
<line x1="735.8" y1="453.43" x2="740.3" y2="453.43" stroke="#000" stroke-width="2.3" />
<line x1="1175.7" y1="453.43" x2="1171.2" y2="453.43" stroke="#000" stroke-width="2.3" />
<line x1="735.8" y1="439.01" x2="740.3" y2="439.01" stroke="#000" stroke-width="2.3" />
<line x1="1175.7" y1="439.01" x2="1171.2" y2="439.01" stroke="#000" stroke-width="2.3" />
<line x1="735.8" y1="412.32" x2="740.3" y2="412.32" stroke="#000" stroke-width="2.3" />
<line x1="1175.7" y1="412.32" x2="1171.2" y2="412.32" stroke="#000" stroke-width="2.3" />
<line x1="735.8" y1="399.92" x2="740.3" y2="399.92" stroke="#000" stroke-width="2.3" />
<line x1="1175.7" y1="399.92" x2="1171.2" y2="399.92" stroke="#000" stroke-width="2.3" />
<line x1="735.8" y1="388.07" x2="740.3" y2="388.07" stroke="#000" stroke-width="2.3" />
<line x1="1175.7" y1="388.07" x2="1171.2" y2="388.07" stroke="#000" stroke-width="2.3" />
<line x1="735.8" y1="376.72" x2="740.3" y2="376.72" stroke="#000" stroke-width="2.3" />
<line x1="1175.7" y1="376.72" x2="1171.2" y2="376.72" stroke="#000" stroke-width="2.3" />
<line x1="735.8" y1="365.83" x2="740.3" y2="365.83" stroke="#000" stroke-width="2.3" />
<line x1="1175.7" y1="365.83" x2="1171.2" y2="365.83" stroke="#000" stroke-width="2.3" />
<line x1="735.8" y1="355.37" x2="740.3" y2="355.37" stroke="#000" stroke-width="2.3" />
<line x1="1175.7" y1="355.37" x2="1171.2" y2="355.37" stroke="#000" stroke-width="2.3" />
<line x1="735.8" y1="345.31" x2="740.3" y2="345.31" stroke="#000" stroke-width="2.3" />
<line x1="1175.7" y1="345.31" x2="1171.2" y2="345.31" stroke="#000" stroke-width="2.3" />
<line x1="735.8" y1="335.61" x2="740.3" y2="335.61" stroke="#000" stroke-width="2.3" />
<line x1="1175.7" y1="335.61" x2="1171.2" y2="335.61" stroke="#000" stroke-width="2.3" />
<line x1="735.8" y1="326.26" x2="740.3" y2="326.26" stroke="#000" stroke-width="2.3" />
<line x1="1175.7" y1="326.26" x2="1171.2" y2="326.26" stroke="#000" stroke-width="2.3" />
<line x1="735.8" y1="308.47" x2="740.3" y2="308.47" stroke="#000" stroke-width="2.3" />
<line x1="1175.7" y1="308.47" x2="1171.2" y2="308.47" stroke="#000" stroke-width="2.3" />
<line x1="735.8" y1="300.01" x2="740.3" y2="300.01" stroke="#000" stroke-width="2.3" />
<line x1="1175.7" y1="300.01" x2="1171.2" y2="300.01" stroke="#000" stroke-width="2.3" />
<line x1="735.8" y1="291.8" x2="740.3" y2="291.8" stroke="#000" stroke-width="2.3" />
<line x1="1175.7" y1="291.8" x2="1171.2" y2="291.8" stroke="#000" stroke-width="2.3" />
<line x1="735.8" y1="283.84" x2="740.3" y2="283.84" stroke="#000" stroke-width="2.3" />
<line x1="1175.7" y1="283.84" x2="1171.2" y2="283.84" stroke="#000" stroke-width="2.3" />
<line x1="735.8" y1="276.11" x2="740.3" y2="276.11" stroke="#000" stroke-width="2.3" />
<line x1="1175.7" y1="276.11" x2="1171.2" y2="276.11" stroke="#000" stroke-width="2.3" />
<line x1="735.8" y1="268.6" x2="740.3" y2="268.6" stroke="#000" stroke-width="2.3" />
<line x1="1175.7" y1="268.6" x2="1171.2" y2="268.6" stroke="#000" stroke-width="2.3" />
<line x1="735.8" y1="261.29" x2="740.3" y2="261.29" stroke="#000" stroke-width="2.3" />
<line x1="1175.7" y1="261.29" x2="1171.2" y2="261.29" stroke="#000" stroke-width="2.3" />
<line x1="735.8" y1="254.18" x2="740.3" y2="254.18" stroke="#000" stroke-width="2.3" />
<line x1="1175.7" y1="254.18" x2="1171.2" y2="254.18" stroke="#000" stroke-width="2.3" />
<line x1="735.8" y1="247.25" x2="740.3" y2="247.25" stroke="#000" stroke-width="2.3" />
<line x1="1175.7" y1="247.25" x2="1171.2" y2="247.25" stroke="#000" stroke-width="2.3" />
<line x1="735.8" y1="233.92" x2="740.3" y2="233.92" stroke="#000" stroke-width="2.3" />
<line x1="1175.7" y1="233.92" x2="1171.2" y2="233.92" stroke="#000" stroke-width="2.3" />
<line x1="735.8" y1="227.49" x2="740.3" y2="227.49" stroke="#000" stroke-width="2.3" />
<line x1="1175.7" y1="227.49" x2="1171.2" y2="227.49" stroke="#000" stroke-width="2.3" />
<line x1="735.8" y1="221.22" x2="740.3" y2="221.22" stroke="#000" stroke-width="2.3" />
<line x1="1175.7" y1="221.22" x2="1171.2" y2="221.22" stroke="#000" stroke-width="2.3" />
<line x1="735.8" y1="215.09" x2="740.3" y2="215.09" stroke="#000" stroke-width="2.3" />
<line x1="1175.7" y1="215.09" x2="1171.2" y2="215.09" stroke="#000" stroke-width="2.3" />
<line x1="735.8" y1="209.1" x2="740.3" y2="209.1" stroke="#000" stroke-width="2.3" />
<line x1="1175.7" y1="209.1" x2="1171.2" y2="209.1" stroke="#000" stroke-width="2.3" />
<line x1="735.8" y1="203.23" x2="740.3" y2="203.23" stroke="#000" stroke-width="2.3" />
<line x1="1175.7" y1="203.23" x2="1171.2" y2="203.23" stroke="#000" stroke-width="2.3" />
<line x1="735.8" y1="197.5" x2="740.3" y2="197.5" stroke="#000" stroke-width="2.3" />
<line x1="1175.7" y1="197.5" x2="1171.2" y2="197.5" stroke="#000" stroke-width="2.3" />
<line x1="735.8" y1="191.89" x2="740.3" y2="191.89" stroke="#000" stroke-width="2.3" />
<line x1="1175.7" y1="191.89" x2="1171.2" y2="191.89" stroke="#000" stroke-width="2.3" />
<line x1="735.8" y1="186.39" x2="740.3" y2="186.39" stroke="#000" stroke-width="2.3" />
<line x1="1175.7" y1="186.39" x2="1171.2" y2="186.39" stroke="#000" stroke-width="2.3" />
<line x1="735.8" y1="175.72" x2="740.3" y2="175.72" stroke="#000" stroke-width="2.3" />
<line x1="1175.7" y1="175.72" x2="1171.2" y2="175.72" stroke="#000" stroke-width="2.3" />
<line x1="735.8" y1="170.54" x2="740.3" y2="170.54" stroke="#000" stroke-width="2.3" />
<line x1="1175.7" y1="170.54" x2="1171.2" y2="170.54" stroke="#000" stroke-width="2.3" />
<line x1="735.8" y1="165.46" x2="740.3" y2="165.46" stroke="#000" stroke-width="2.3" />
<line x1="1175.7" y1="165.46" x2="1171.2" y2="165.46" stroke="#000" stroke-width="2.3" />
<line x1="735.8" y1="160.48" x2="740.3" y2="160.48" stroke="#000" stroke-width="2.3" />
<line x1="1175.7" y1="160.48" x2="1171.2" y2="160.48" stroke="#000" stroke-width="2.3" />
<line x1="735.8" y1="155.58" x2="740.3" y2="155.58" stroke="#000" stroke-width="2.3" />
<line x1="1175.7" y1="155.58" x2="1171.2" y2="155.58" stroke="#000" stroke-width="2.3" />
<line x1="735.8" y1="150.78" x2="740.3" y2="150.78" stroke="#000" stroke-width="2.3" />
<line x1="1175.7" y1="150.78" x2="1171.2" y2="150.78" stroke="#000" stroke-width="2.3" />
<line x1="735.8" y1="146.06" x2="740.3" y2="146.06" stroke="#000" stroke-width="2.3" />
<line x1="1175.7" y1="146.06" x2="1171.2" y2="146.06" stroke="#000" stroke-width="2.3" />
<line x1="735.8" y1="141.42" x2="740.3" y2="141.42" stroke="#000" stroke-width="2.3" />
<line x1="1175.7" y1="141.42" x2="1171.2" y2="141.42" stroke="#000" stroke-width="2.3" />
<line x1="735.8" y1="136.86" x2="740.3" y2="136.86" stroke="#000" stroke-width="2.3" />
<line x1="1175.7" y1="136.86" x2="1171.2" y2="136.86" stroke="#000" stroke-width="2.3" />
<line x1="735.8" y1="127.98" x2="740.3" y2="127.98" stroke="#000" stroke-width="2.3" />
<line x1="1175.7" y1="127.98" x2="1171.2" y2="127.98" stroke="#000" stroke-width="2.3" />
<line x1="735.8" y1="123.64" x2="740.3" y2="123.64" stroke="#000" stroke-width="2.3" />
<line x1="1175.7" y1="123.64" x2="1171.2" y2="123.64" stroke="#000" stroke-width="2.3" />
<line x1="735.8" y1="119.37" x2="740.3" y2="119.37" stroke="#000" stroke-width="2.3" />
<line x1="1175.7" y1="119.37" x2="1171.2" y2="119.37" stroke="#000" stroke-width="2.3" />
<line x1="735.8" y1="115.17" x2="740.3" y2="115.17" stroke="#000" stroke-width="2.3" />
<line x1="1175.7" y1="115.17" x2="1171.2" y2="115.17" stroke="#000" stroke-width="2.3" />
<line x1="735.8" y1="111.04" x2="740.3" y2="111.04" stroke="#000" stroke-width="2.3" />
<line x1="1175.7" y1="111.04" x2="1171.2" y2="111.04" stroke="#000" stroke-width="2.3" />
<line x1="735.8" y1="106.97" x2="740.3" y2="106.97" stroke="#000" stroke-width="2.3" />
<line x1="1175.7" y1="106.97" x2="1171.2" y2="106.97" stroke="#000" stroke-width="2.3" />
<line x1="735.8" y1="102.96" x2="740.3" y2="102.96" stroke="#000" stroke-width="2.3" />
<line x1="1175.7" y1="102.96" x2="1171.2" y2="102.96" stroke="#000" stroke-width="2.3" />
<line x1="735.8" y1="99.01" x2="740.3" y2="99.01" stroke="#000" stroke-width="2.3" />
<line x1="1175.7" y1="99.01" x2="1171.2" y2="99.01" stroke="#000" stroke-width="2.3" />
<line x1="735.8" y1="95.11" x2="740.3" y2="95.11" stroke="#000" stroke-width="2.3" />
<line x1="1175.7" y1="95.11" x2="1171.2" y2="95.11" stroke="#000" stroke-width="2.3" />
<line x1="735.8" y1="87.49" x2="740.3" y2="87.49" stroke="#000" stroke-width="2.3" />
<line x1="1175.7" y1="87.49" x2="1171.2" y2="87.49" stroke="#000" stroke-width="2.3" />
<line x1="735.8" y1="83.77" x2="740.3" y2="83.77" stroke="#000" stroke-width="2.3" />
<line x1="1175.7" y1="83.77" x2="1171.2" y2="83.77" stroke="#000" stroke-width="2.3" />
<line x1="735.8" y1="80.09" x2="740.3" y2="80.09" stroke="#000" stroke-width="2.3" />
<line x1="1175.7" y1="80.09" x2="1171.2" y2="80.09" stroke="#000" stroke-width="2.3" />
<line x1="735.8" y1="76.46" x2="740.3" y2="76.46" stroke="#000" stroke-width="2.3" />
<line x1="1175.7" y1="76.46" x2="1171.2" y2="76.46" stroke="#000" stroke-width="2.3" />
<line x1="735.8" y1="72.88" x2="740.3" y2="72.88" stroke="#000" stroke-width="2.3" />
<line x1="1175.7" y1="72.88" x2="1171.2" y2="72.88" stroke="#000" stroke-width="2.3" />
<line x1="735.8" y1="69.35" x2="740.3" y2="69.35" stroke="#000" stroke-width="2.3" />
<line x1="1175.7" y1="69.35" x2="1171.2" y2="69.35" stroke="#000" stroke-width="2.3" />
<line x1="735.8" y1="65.86" x2="740.3" y2="65.86" stroke="#000" stroke-width="2.3" />
<line x1="1175.7" y1="65.86" x2="1171.2" y2="65.86" stroke="#000" stroke-width="2.3" />
<line x1="735.8" y1="62.42" x2="740.3" y2="62.42" stroke="#000" stroke-width="2.3" />
<line x1="1175.7" y1="62.42" x2="1171.2" y2="62.42" stroke="#000" stroke-width="2.3" />
<line x1="735.8" y1="59.02" x2="740.3" y2="59.02" stroke="#000" stroke-width="2.3" />
<line x1="1175.7" y1="59.02" x2="1171.2" y2="59.02" stroke="#000" stroke-width="2.3" />
<rect x="735.8" y="55.7" width="439.9" height="405.7" fill="none" stroke="#000" stroke-width="3.0"/>
<text x="775.5" y="499.3" font-family="'Liberation Sans', Arial, Helvetica, sans-serif" font-size="31" font-weight="normal" text-anchor="middle" fill="#000" stroke="#000" stroke-width="1.0" >0.0</text>
<text x="908.9" y="499.3" font-family="'Liberation Sans', Arial, Helvetica, sans-serif" font-size="31" font-weight="normal" text-anchor="middle" fill="#000" stroke="#000" stroke-width="1.0" >0.5</text>
<text x="1042.3" y="499.3" font-family="'Liberation Sans', Arial, Helvetica, sans-serif" font-size="31" font-weight="normal" text-anchor="middle" fill="#000" stroke="#000" stroke-width="1.0" >1.0</text>
<text x="1175.7" y="499.3" font-family="'Liberation Sans', Arial, Helvetica, sans-serif" font-size="31" font-weight="normal" text-anchor="middle" fill="#000" stroke="#000" stroke-width="1.0" >1.5</text>
<text x="723" y="435.34" font-family="'Liberation Sans', Arial, Helvetica, sans-serif" font-size="31" font-weight="normal" text-anchor="end" fill="#000" stroke="#000" stroke-width="1.0" >0.04</text>
<text x="723" y="327.22" font-family="'Liberation Sans', Arial, Helvetica, sans-serif" font-size="31" font-weight="normal" text-anchor="end" fill="#000" stroke="#000" stroke-width="1.0" >0.06</text>
<text x="723" y="250.5" font-family="'Liberation Sans', Arial, Helvetica, sans-serif" font-size="31" font-weight="normal" text-anchor="end" fill="#000" stroke="#000" stroke-width="1.0" >0.08</text>
<text x="723" y="191" font-family="'Liberation Sans', Arial, Helvetica, sans-serif" font-size="31" font-weight="normal" text-anchor="end" fill="#000" stroke="#000" stroke-width="1.0" >0.1</text>
<text x="723" y="142.38" font-family="'Liberation Sans', Arial, Helvetica, sans-serif" font-size="31" font-weight="normal" text-anchor="end" fill="#000" stroke="#000" stroke-width="1.0" >0.12</text>
<text x="723" y="101.28" font-family="'Liberation Sans', Arial, Helvetica, sans-serif" font-size="31" font-weight="normal" text-anchor="end" fill="#000" stroke="#000" stroke-width="1.0" >0.14</text>
<text x="723" y="65.67" font-family="'Liberation Sans', Arial, Helvetica, sans-serif" font-size="31" font-weight="normal" text-anchor="end" fill="#000" stroke="#000" stroke-width="1.0" >0.16</text>
<rect x="772.8" y="82.5" width="161.6" height="41.3" fill="#fff" stroke="#b4b4b4" stroke-width="1.6"/>
<line x1="776.8" y1="103" x2="842.9" y2="103" stroke="#555" stroke-width="2" />
<rect x="800.5" y="94.6" width="17.8" height="17.8" fill="#4a4a4a" stroke="#2e2e2e" stroke-width="1"/>
<text x="850.5" y="113.6" font-family="'Liberation Sans', Arial, Helvetica, sans-serif" font-size="31" font-weight="normal" text-anchor="start" fill="#000" stroke="#000" stroke-width="1.0" >CTAB</text>
<text x="985" y="44.7" font-family="'Liberation Sans', Arial, Helvetica, sans-serif" font-size="27.5" fill="#21467e" stroke="#21467e" stroke-width="0.6">CMC with Br<tspan font-size="17" dy="-11">−</tspan></text>
<text x="957.2" y="548.5" font-family="'Liberation Sans', Arial, Helvetica, sans-serif" font-size="33.4" text-anchor="middle" stroke="#000" stroke-width="1.0">Concentration (mM)</text>
<text transform="translate(643.8,257.2) rotate(-90)" x="0" y="0" font-family="'Liberation Sans', Arial, Helvetica, sans-serif" font-size="33.6" text-anchor="middle" stroke="#000" stroke-width="1.0">MSD(∞) (μm<tspan font-size="20.5" dy="-12">2</tspan><tspan dy="12">)</tspan></text>
<text x="615" y="42.4" font-family="'Liberation Sans', Arial, Helvetica, sans-serif" font-size="55" font-weight="bold" text-anchor="start" fill="#000" stroke="#000" stroke-width="1.0" >b</text>
<defs><clipPath id="cc"><rect x="1343.6" y="55.6" width="438.4" height="405.7"/></clipPath></defs>
<line x1="1343.6" y1="149.3" x2="1782" y2="149.3" stroke="#8a7c7c" stroke-width="2.5" stroke-dasharray="3.3 3.6"/>
<g clip-path="url(#cc)">
<polyline fill="none" stroke="#6a4a4d" stroke-width="2" points="1380.89,149 1441.65,192.6 1517.6,246.2 1593.55,149.6 1669.5,124.7 1745.45,121.5"/>
<line x1="1380.89" y1="135.6" x2="1380.89" y2="163.3" stroke="#8e5e62" stroke-width="2" />
<line x1="1374.09" y1="135.6" x2="1387.69" y2="135.6" stroke="#8e5e62" stroke-width="2" />
<line x1="1374.09" y1="163.3" x2="1387.69" y2="163.3" stroke="#8e5e62" stroke-width="2" />
<line x1="1441.65" y1="178.9" x2="1441.65" y2="208.3" stroke="#8e5e62" stroke-width="2" />
<line x1="1434.85" y1="178.9" x2="1448.45" y2="178.9" stroke="#8e5e62" stroke-width="2" />
<line x1="1434.85" y1="208.3" x2="1448.45" y2="208.3" stroke="#8e5e62" stroke-width="2" />
<line x1="1517.6" y1="235.8" x2="1517.6" y2="255.4" stroke="#8e5e62" stroke-width="2" />
<line x1="1510.8" y1="235.8" x2="1524.4" y2="235.8" stroke="#8e5e62" stroke-width="2" />
<line x1="1510.8" y1="255.4" x2="1524.4" y2="255.4" stroke="#8e5e62" stroke-width="2" />
<line x1="1593.55" y1="138.9" x2="1593.55" y2="160.3" stroke="#8e5e62" stroke-width="2" />
<line x1="1586.75" y1="138.9" x2="1600.35" y2="138.9" stroke="#8e5e62" stroke-width="2" />
<line x1="1586.75" y1="160.3" x2="1600.35" y2="160.3" stroke="#8e5e62" stroke-width="2" />
<line x1="1669.5" y1="113.1" x2="1669.5" y2="136.6" stroke="#8e5e62" stroke-width="2" />
<line x1="1662.7" y1="113.1" x2="1676.3" y2="113.1" stroke="#8e5e62" stroke-width="2" />
<line x1="1662.7" y1="136.6" x2="1676.3" y2="136.6" stroke="#8e5e62" stroke-width="2" />
<line x1="1745.45" y1="109.2" x2="1745.45" y2="135.4" stroke="#8e5e62" stroke-width="2" />
<line x1="1738.65" y1="109.2" x2="1752.25" y2="109.2" stroke="#8e5e62" stroke-width="2" />
<line x1="1738.65" y1="135.4" x2="1752.25" y2="135.4" stroke="#8e5e62" stroke-width="2" />
<circle cx="1380.89" cy="149" r="10.2" fill="#7b3d43" stroke="#5a2a2f" stroke-width="1"/>
<circle cx="1441.65" cy="192.6" r="10.2" fill="#7b3d43" stroke="#5a2a2f" stroke-width="1"/>
<circle cx="1517.6" cy="246.2" r="10.2" fill="#7b3d43" stroke="#5a2a2f" stroke-width="1"/>
<circle cx="1593.55" cy="149.6" r="10.2" fill="#7b3d43" stroke="#5a2a2f" stroke-width="1"/>
<circle cx="1669.5" cy="124.7" r="10.2" fill="#7b3d43" stroke="#5a2a2f" stroke-width="1"/>
<circle cx="1745.45" cy="121.5" r="10.2" fill="#7b3d43" stroke="#5a2a2f" stroke-width="1"/>
</g>
<line x1="1578.4" y1="55.6" x2="1578.4" y2="461.3" stroke="#5b8bd0" stroke-width="2.6" />
<line x1="1365.7" y1="461.3" x2="1365.7" y2="449.3" stroke="#000" stroke-width="2.3" />
<line x1="1365.7" y1="55.6" x2="1365.7" y2="67.6" stroke="#000" stroke-width="2.3" />
<line x1="1441.65" y1="461.3" x2="1441.65" y2="449.3" stroke="#000" stroke-width="2.3" />
<line x1="1441.65" y1="55.6" x2="1441.65" y2="67.6" stroke="#000" stroke-width="2.3" />
<line x1="1517.6" y1="461.3" x2="1517.6" y2="449.3" stroke="#000" stroke-width="2.3" />
<line x1="1517.6" y1="55.6" x2="1517.6" y2="67.6" stroke="#000" stroke-width="2.3" />
<line x1="1593.55" y1="461.3" x2="1593.55" y2="449.3" stroke="#000" stroke-width="2.3" />
<line x1="1593.55" y1="55.6" x2="1593.55" y2="67.6" stroke="#000" stroke-width="2.3" />
<line x1="1669.5" y1="461.3" x2="1669.5" y2="449.3" stroke="#000" stroke-width="2.3" />
<line x1="1669.5" y1="55.6" x2="1669.5" y2="67.6" stroke="#000" stroke-width="2.3" />
<line x1="1745.45" y1="461.3" x2="1745.45" y2="449.3" stroke="#000" stroke-width="2.3" />
<line x1="1745.45" y1="55.6" x2="1745.45" y2="67.6" stroke="#000" stroke-width="2.3" />
<line x1="1403.67" y1="461.3" x2="1403.67" y2="455.3" stroke="#000" stroke-width="2.3" />
<line x1="1403.67" y1="55.6" x2="1403.67" y2="61.6" stroke="#000" stroke-width="2.3" />
<line x1="1479.62" y1="461.3" x2="1479.62" y2="455.3" stroke="#000" stroke-width="2.3" />
<line x1="1479.62" y1="55.6" x2="1479.62" y2="61.6" stroke="#000" stroke-width="2.3" />
<line x1="1555.58" y1="461.3" x2="1555.58" y2="455.3" stroke="#000" stroke-width="2.3" />
<line x1="1555.58" y1="55.6" x2="1555.58" y2="61.6" stroke="#000" stroke-width="2.3" />
<line x1="1631.53" y1="461.3" x2="1631.53" y2="455.3" stroke="#000" stroke-width="2.3" />
<line x1="1631.53" y1="55.6" x2="1631.53" y2="61.6" stroke="#000" stroke-width="2.3" />
<line x1="1707.48" y1="461.3" x2="1707.48" y2="455.3" stroke="#000" stroke-width="2.3" />
<line x1="1707.48" y1="55.6" x2="1707.48" y2="61.6" stroke="#000" stroke-width="2.3" />
<line x1="1343.6" y1="425.34" x2="1355.6" y2="425.34" stroke="#000" stroke-width="2.3" />
<line x1="1782" y1="425.34" x2="1770" y2="425.34" stroke="#000" stroke-width="2.3" />
<line x1="1343.6" y1="317.22" x2="1355.6" y2="317.22" stroke="#000" stroke-width="2.3" />
<line x1="1782" y1="317.22" x2="1770" y2="317.22" stroke="#000" stroke-width="2.3" />
<line x1="1343.6" y1="240.5" x2="1355.6" y2="240.5" stroke="#000" stroke-width="2.3" />
<line x1="1782" y1="240.5" x2="1770" y2="240.5" stroke="#000" stroke-width="2.3" />
<line x1="1343.6" y1="181" x2="1355.6" y2="181" stroke="#000" stroke-width="2.3" />
<line x1="1782" y1="181" x2="1770" y2="181" stroke="#000" stroke-width="2.3" />
<line x1="1343.6" y1="132.38" x2="1355.6" y2="132.38" stroke="#000" stroke-width="2.3" />
<line x1="1782" y1="132.38" x2="1770" y2="132.38" stroke="#000" stroke-width="2.3" />
<line x1="1343.6" y1="91.28" x2="1355.6" y2="91.28" stroke="#000" stroke-width="2.3" />
<line x1="1782" y1="91.28" x2="1770" y2="91.28" stroke="#000" stroke-width="2.3" />
<line x1="1343.6" y1="453.43" x2="1348.1" y2="453.43" stroke="#000" stroke-width="2.3" />
<line x1="1782" y1="453.43" x2="1777.5" y2="453.43" stroke="#000" stroke-width="2.3" />
<line x1="1343.6" y1="439.01" x2="1348.1" y2="439.01" stroke="#000" stroke-width="2.3" />
<line x1="1782" y1="439.01" x2="1777.5" y2="439.01" stroke="#000" stroke-width="2.3" />
<line x1="1343.6" y1="412.32" x2="1348.1" y2="412.32" stroke="#000" stroke-width="2.3" />
<line x1="1782" y1="412.32" x2="1777.5" y2="412.32" stroke="#000" stroke-width="2.3" />
<line x1="1343.6" y1="399.92" x2="1348.1" y2="399.92" stroke="#000" stroke-width="2.3" />
<line x1="1782" y1="399.92" x2="1777.5" y2="399.92" stroke="#000" stroke-width="2.3" />
<line x1="1343.6" y1="388.07" x2="1348.1" y2="388.07" stroke="#000" stroke-width="2.3" />
<line x1="1782" y1="388.07" x2="1777.5" y2="388.07" stroke="#000" stroke-width="2.3" />
<line x1="1343.6" y1="376.72" x2="1348.1" y2="376.72" stroke="#000" stroke-width="2.3" />
<line x1="1782" y1="376.72" x2="1777.5" y2="376.72" stroke="#000" stroke-width="2.3" />
<line x1="1343.6" y1="365.83" x2="1348.1" y2="365.83" stroke="#000" stroke-width="2.3" />
<line x1="1782" y1="365.83" x2="1777.5" y2="365.83" stroke="#000" stroke-width="2.3" />
<line x1="1343.6" y1="355.37" x2="1348.1" y2="355.37" stroke="#000" stroke-width="2.3" />
<line x1="1782" y1="355.37" x2="1777.5" y2="355.37" stroke="#000" stroke-width="2.3" />
<line x1="1343.6" y1="345.31" x2="1348.1" y2="345.31" stroke="#000" stroke-width="2.3" />
<line x1="1782" y1="345.31" x2="1777.5" y2="345.31" stroke="#000" stroke-width="2.3" />
<line x1="1343.6" y1="335.61" x2="1348.1" y2="335.61" stroke="#000" stroke-width="2.3" />
<line x1="1782" y1="335.61" x2="1777.5" y2="335.61" stroke="#000" stroke-width="2.3" />
<line x1="1343.6" y1="326.26" x2="1348.1" y2="326.26" stroke="#000" stroke-width="2.3" />
<line x1="1782" y1="326.26" x2="1777.5" y2="326.26" stroke="#000" stroke-width="2.3" />
<line x1="1343.6" y1="308.47" x2="1348.1" y2="308.47" stroke="#000" stroke-width="2.3" />
<line x1="1782" y1="308.47" x2="1777.5" y2="308.47" stroke="#000" stroke-width="2.3" />
<line x1="1343.6" y1="300.01" x2="1348.1" y2="300.01" stroke="#000" stroke-width="2.3" />
<line x1="1782" y1="300.01" x2="1777.5" y2="300.01" stroke="#000" stroke-width="2.3" />
<line x1="1343.6" y1="291.8" x2="1348.1" y2="291.8" stroke="#000" stroke-width="2.3" />
<line x1="1782" y1="291.8" x2="1777.5" y2="291.8" stroke="#000" stroke-width="2.3" />
<line x1="1343.6" y1="283.84" x2="1348.1" y2="283.84" stroke="#000" stroke-width="2.3" />
<line x1="1782" y1="283.84" x2="1777.5" y2="283.84" stroke="#000" stroke-width="2.3" />
<line x1="1343.6" y1="276.11" x2="1348.1" y2="276.11" stroke="#000" stroke-width="2.3" />
<line x1="1782" y1="276.11" x2="1777.5" y2="276.11" stroke="#000" stroke-width="2.3" />
<line x1="1343.6" y1="268.6" x2="1348.1" y2="268.6" stroke="#000" stroke-width="2.3" />
<line x1="1782" y1="268.6" x2="1777.5" y2="268.6" stroke="#000" stroke-width="2.3" />
<line x1="1343.6" y1="261.29" x2="1348.1" y2="261.29" stroke="#000" stroke-width="2.3" />
<line x1="1782" y1="261.29" x2="1777.5" y2="261.29" stroke="#000" stroke-width="2.3" />
<line x1="1343.6" y1="254.18" x2="1348.1" y2="254.18" stroke="#000" stroke-width="2.3" />
<line x1="1782" y1="254.18" x2="1777.5" y2="254.18" stroke="#000" stroke-width="2.3" />
<line x1="1343.6" y1="247.25" x2="1348.1" y2="247.25" stroke="#000" stroke-width="2.3" />
<line x1="1782" y1="247.25" x2="1777.5" y2="247.25" stroke="#000" stroke-width="2.3" />
<line x1="1343.6" y1="233.92" x2="1348.1" y2="233.92" stroke="#000" stroke-width="2.3" />
<line x1="1782" y1="233.92" x2="1777.5" y2="233.92" stroke="#000" stroke-width="2.3" />
<line x1="1343.6" y1="227.49" x2="1348.1" y2="227.49" stroke="#000" stroke-width="2.3" />
<line x1="1782" y1="227.49" x2="1777.5" y2="227.49" stroke="#000" stroke-width="2.3" />
<line x1="1343.6" y1="221.22" x2="1348.1" y2="221.22" stroke="#000" stroke-width="2.3" />
<line x1="1782" y1="221.22" x2="1777.5" y2="221.22" stroke="#000" stroke-width="2.3" />
<line x1="1343.6" y1="215.09" x2="1348.1" y2="215.09" stroke="#000" stroke-width="2.3" />
<line x1="1782" y1="215.09" x2="1777.5" y2="215.09" stroke="#000" stroke-width="2.3" />
<line x1="1343.6" y1="209.1" x2="1348.1" y2="209.1" stroke="#000" stroke-width="2.3" />
<line x1="1782" y1="209.1" x2="1777.5" y2="209.1" stroke="#000" stroke-width="2.3" />
<line x1="1343.6" y1="203.23" x2="1348.1" y2="203.23" stroke="#000" stroke-width="2.3" />
<line x1="1782" y1="203.23" x2="1777.5" y2="203.23" stroke="#000" stroke-width="2.3" />
<line x1="1343.6" y1="197.5" x2="1348.1" y2="197.5" stroke="#000" stroke-width="2.3" />
<line x1="1782" y1="197.5" x2="1777.5" y2="197.5" stroke="#000" stroke-width="2.3" />
<line x1="1343.6" y1="191.89" x2="1348.1" y2="191.89" stroke="#000" stroke-width="2.3" />
<line x1="1782" y1="191.89" x2="1777.5" y2="191.89" stroke="#000" stroke-width="2.3" />
<line x1="1343.6" y1="186.39" x2="1348.1" y2="186.39" stroke="#000" stroke-width="2.3" />
<line x1="1782" y1="186.39" x2="1777.5" y2="186.39" stroke="#000" stroke-width="2.3" />
<line x1="1343.6" y1="175.72" x2="1348.1" y2="175.72" stroke="#000" stroke-width="2.3" />
<line x1="1782" y1="175.72" x2="1777.5" y2="175.72" stroke="#000" stroke-width="2.3" />
<line x1="1343.6" y1="170.54" x2="1348.1" y2="170.54" stroke="#000" stroke-width="2.3" />
<line x1="1782" y1="170.54" x2="1777.5" y2="170.54" stroke="#000" stroke-width="2.3" />
<line x1="1343.6" y1="165.46" x2="1348.1" y2="165.46" stroke="#000" stroke-width="2.3" />
<line x1="1782" y1="165.46" x2="1777.5" y2="165.46" stroke="#000" stroke-width="2.3" />
<line x1="1343.6" y1="160.48" x2="1348.1" y2="160.48" stroke="#000" stroke-width="2.3" />
<line x1="1782" y1="160.48" x2="1777.5" y2="160.48" stroke="#000" stroke-width="2.3" />
<line x1="1343.6" y1="155.58" x2="1348.1" y2="155.58" stroke="#000" stroke-width="2.3" />
<line x1="1782" y1="155.58" x2="1777.5" y2="155.58" stroke="#000" stroke-width="2.3" />
<line x1="1343.6" y1="150.78" x2="1348.1" y2="150.78" stroke="#000" stroke-width="2.3" />
<line x1="1782" y1="150.78" x2="1777.5" y2="150.78" stroke="#000" stroke-width="2.3" />
<line x1="1343.6" y1="146.06" x2="1348.1" y2="146.06" stroke="#000" stroke-width="2.3" />
<line x1="1782" y1="146.06" x2="1777.5" y2="146.06" stroke="#000" stroke-width="2.3" />
<line x1="1343.6" y1="141.42" x2="1348.1" y2="141.42" stroke="#000" stroke-width="2.3" />
<line x1="1782" y1="141.42" x2="1777.5" y2="141.42" stroke="#000" stroke-width="2.3" />
<line x1="1343.6" y1="136.86" x2="1348.1" y2="136.86" stroke="#000" stroke-width="2.3" />
<line x1="1782" y1="136.86" x2="1777.5" y2="136.86" stroke="#000" stroke-width="2.3" />
<line x1="1343.6" y1="127.98" x2="1348.1" y2="127.98" stroke="#000" stroke-width="2.3" />
<line x1="1782" y1="127.98" x2="1777.5" y2="127.98" stroke="#000" stroke-width="2.3" />
<line x1="1343.6" y1="123.64" x2="1348.1" y2="123.64" stroke="#000" stroke-width="2.3" />
<line x1="1782" y1="123.64" x2="1777.5" y2="123.64" stroke="#000" stroke-width="2.3" />
<line x1="1343.6" y1="119.37" x2="1348.1" y2="119.37" stroke="#000" stroke-width="2.3" />
<line x1="1782" y1="119.37" x2="1777.5" y2="119.37" stroke="#000" stroke-width="2.3" />
<line x1="1343.6" y1="115.17" x2="1348.1" y2="115.17" stroke="#000" stroke-width="2.3" />
<line x1="1782" y1="115.17" x2="1777.5" y2="115.17" stroke="#000" stroke-width="2.3" />
<line x1="1343.6" y1="111.04" x2="1348.1" y2="111.04" stroke="#000" stroke-width="2.3" />
<line x1="1782" y1="111.04" x2="1777.5" y2="111.04" stroke="#000" stroke-width="2.3" />
<line x1="1343.6" y1="106.97" x2="1348.1" y2="106.97" stroke="#000" stroke-width="2.3" />
<line x1="1782" y1="106.97" x2="1777.5" y2="106.97" stroke="#000" stroke-width="2.3" />
<line x1="1343.6" y1="102.96" x2="1348.1" y2="102.96" stroke="#000" stroke-width="2.3" />
<line x1="1782" y1="102.96" x2="1777.5" y2="102.96" stroke="#000" stroke-width="2.3" />
<line x1="1343.6" y1="99.01" x2="1348.1" y2="99.01" stroke="#000" stroke-width="2.3" />
<line x1="1782" y1="99.01" x2="1777.5" y2="99.01" stroke="#000" stroke-width="2.3" />
<line x1="1343.6" y1="95.11" x2="1348.1" y2="95.11" stroke="#000" stroke-width="2.3" />
<line x1="1782" y1="95.11" x2="1777.5" y2="95.11" stroke="#000" stroke-width="2.3" />
<line x1="1343.6" y1="87.49" x2="1348.1" y2="87.49" stroke="#000" stroke-width="2.3" />
<line x1="1782" y1="87.49" x2="1777.5" y2="87.49" stroke="#000" stroke-width="2.3" />
<line x1="1343.6" y1="83.77" x2="1348.1" y2="83.77" stroke="#000" stroke-width="2.3" />
<line x1="1782" y1="83.77" x2="1777.5" y2="83.77" stroke="#000" stroke-width="2.3" />
<line x1="1343.6" y1="80.09" x2="1348.1" y2="80.09" stroke="#000" stroke-width="2.3" />
<line x1="1782" y1="80.09" x2="1777.5" y2="80.09" stroke="#000" stroke-width="2.3" />
<line x1="1343.6" y1="76.46" x2="1348.1" y2="76.46" stroke="#000" stroke-width="2.3" />
<line x1="1782" y1="76.46" x2="1777.5" y2="76.46" stroke="#000" stroke-width="2.3" />
<line x1="1343.6" y1="72.88" x2="1348.1" y2="72.88" stroke="#000" stroke-width="2.3" />
<line x1="1782" y1="72.88" x2="1777.5" y2="72.88" stroke="#000" stroke-width="2.3" />
<line x1="1343.6" y1="69.35" x2="1348.1" y2="69.35" stroke="#000" stroke-width="2.3" />
<line x1="1782" y1="69.35" x2="1777.5" y2="69.35" stroke="#000" stroke-width="2.3" />
<line x1="1343.6" y1="65.86" x2="1348.1" y2="65.86" stroke="#000" stroke-width="2.3" />
<line x1="1782" y1="65.86" x2="1777.5" y2="65.86" stroke="#000" stroke-width="2.3" />
<line x1="1343.6" y1="62.42" x2="1348.1" y2="62.42" stroke="#000" stroke-width="2.3" />
<line x1="1782" y1="62.42" x2="1777.5" y2="62.42" stroke="#000" stroke-width="2.3" />
<line x1="1343.6" y1="59.02" x2="1348.1" y2="59.02" stroke="#000" stroke-width="2.3" />
<line x1="1782" y1="59.02" x2="1777.5" y2="59.02" stroke="#000" stroke-width="2.3" />
<rect x="1343.6" y="55.6" width="438.4" height="405.7" fill="none" stroke="#000" stroke-width="3.0"/>
<text x="1365.7" y="499.3" font-family="'Liberation Sans', Arial, Helvetica, sans-serif" font-size="31" font-weight="normal" text-anchor="middle" fill="#000" stroke="#000" stroke-width="1.0" >0.0</text>
<text x="1441.65" y="499.3" font-family="'Liberation Sans', Arial, Helvetica, sans-serif" font-size="31" font-weight="normal" text-anchor="middle" fill="#000" stroke="#000" stroke-width="1.0" >0.5</text>
<text x="1517.6" y="499.3" font-family="'Liberation Sans', Arial, Helvetica, sans-serif" font-size="31" font-weight="normal" text-anchor="middle" fill="#000" stroke="#000" stroke-width="1.0" >1.0</text>
<text x="1593.55" y="499.3" font-family="'Liberation Sans', Arial, Helvetica, sans-serif" font-size="31" font-weight="normal" text-anchor="middle" fill="#000" stroke="#000" stroke-width="1.0" >1.5</text>
<text x="1669.5" y="499.3" font-family="'Liberation Sans', Arial, Helvetica, sans-serif" font-size="31" font-weight="normal" text-anchor="middle" fill="#000" stroke="#000" stroke-width="1.0" >2.0</text>
<text x="1745.45" y="499.3" font-family="'Liberation Sans', Arial, Helvetica, sans-serif" font-size="31" font-weight="normal" text-anchor="middle" fill="#000" stroke="#000" stroke-width="1.0" >2.5</text>
<text x="1331.5" y="435.34" font-family="'Liberation Sans', Arial, Helvetica, sans-serif" font-size="31" font-weight="normal" text-anchor="end" fill="#000" stroke="#000" stroke-width="1.0" >0.04</text>
<text x="1331.5" y="327.22" font-family="'Liberation Sans', Arial, Helvetica, sans-serif" font-size="31" font-weight="normal" text-anchor="end" fill="#000" stroke="#000" stroke-width="1.0" >0.06</text>
<text x="1331.5" y="250.5" font-family="'Liberation Sans', Arial, Helvetica, sans-serif" font-size="31" font-weight="normal" text-anchor="end" fill="#000" stroke="#000" stroke-width="1.0" >0.08</text>
<text x="1331.5" y="191" font-family="'Liberation Sans', Arial, Helvetica, sans-serif" font-size="31" font-weight="normal" text-anchor="end" fill="#000" stroke="#000" stroke-width="1.0" >0.1</text>
<text x="1331.5" y="142.38" font-family="'Liberation Sans', Arial, Helvetica, sans-serif" font-size="31" font-weight="normal" text-anchor="end" fill="#000" stroke="#000" stroke-width="1.0" >0.12</text>
<text x="1331.5" y="101.28" font-family="'Liberation Sans', Arial, Helvetica, sans-serif" font-size="31" font-weight="normal" text-anchor="end" fill="#000" stroke="#000" stroke-width="1.0" >0.14</text>
<text x="1331.5" y="65.67" font-family="'Liberation Sans', Arial, Helvetica, sans-serif" font-size="31" font-weight="normal" text-anchor="end" fill="#000" stroke="#000" stroke-width="1.0" >0.16</text>
<rect x="1372.5" y="80.2" width="163.3" height="40.2" fill="#fff" stroke="#b4b4b4" stroke-width="1.6"/>
<line x1="1376.8" y1="99.9" x2="1442.8" y2="99.9" stroke="#6a4a4d" stroke-width="2" />
<circle cx="1409.5" cy="100.5" r="10.3" fill="#7b3d43" stroke="#5a2a2f" stroke-width="1"/>
<text x="1451" y="110.5" font-family="'Liberation Sans', Arial, Helvetica, sans-serif" font-size="31" font-weight="normal" text-anchor="start" fill="#000" stroke="#000" stroke-width="1.0" >CTAC</text>
<text x="1545.5" y="45.8" font-family="'Liberation Sans', Arial, Helvetica, sans-serif" font-size="27.5" fill="#21467e" stroke="#21467e" stroke-width="0.6">CMC with Cl<tspan font-size="17" dy="-11">−</tspan></text>
<text x="1563.4" y="548.5" font-family="'Liberation Sans', Arial, Helvetica, sans-serif" font-size="33.4" text-anchor="middle" stroke="#000" stroke-width="1.0">Concentration (mM)</text>
<text transform="translate(1257.3,256.5) rotate(-90)" x="0" y="0" font-family="'Liberation Sans', Arial, Helvetica, sans-serif" font-size="33.6" text-anchor="middle" stroke="#000" stroke-width="1.0">MSD(∞) (μm<tspan font-size="20.5" dy="-12">2</tspan><tspan dy="12">)</tspan></text>
<text x="1225.8" y="42.4" font-family="'Liberation Sans', Arial, Helvetica, sans-serif" font-size="55" font-weight="bold" text-anchor="start" fill="#000" stroke="#000" stroke-width="1.0" >c</text>
</g>
</svg>
</body></html>
